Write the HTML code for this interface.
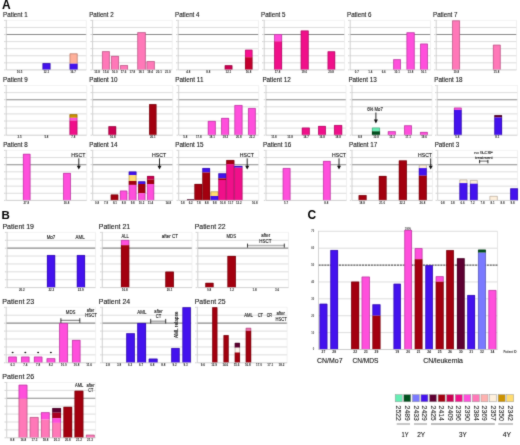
<!DOCTYPE html>
<html><head><meta charset="utf-8"><style>
html,body{margin:0;padding:0;background:#fff;width:520px;height:445px;overflow:hidden}
svg{display:block;will-change:transform}
text{font-family:'Liberation Sans',sans-serif}
</style></head><body>
<svg width="520" height="445" viewBox="0 0 520 445">
<defs><filter id="soft" x="0" y="0" width="520" height="445" filterUnits="userSpaceOnUse" color-interpolation-filters="sRGB"><feConvolveMatrix order="3" kernelMatrix="0.02 0.08 0.02 0.08 0.60 0.08 0.02 0.08 0.02" edgeMode="duplicate"/></filter></defs>
<g filter="url(#soft)">
<rect x="0" y="0" width="520" height="445" fill="#fff"/>
<text x="2.1" y="8.7" font-size="12" fill="#000" font-weight="bold">A</text>
<text x="3.1" y="17.3" font-size="6.3" fill="#1a1a1a" textLength="24.5" lengthAdjust="spacingAndGlyphs" stroke="#1a1a1a" stroke-width="0.12">Patient 1</text>
<line x1="6.30" y1="20.40" x2="86.30" y2="20.40" stroke="#ebebeb" stroke-width="0.6"/>
<line x1="4.10" y1="20.40" x2="5.70" y2="20.40" stroke="#c8c8c8" stroke-width="0.8"/>
<line x1="6.30" y1="27.47" x2="86.30" y2="27.47" stroke="#d4d4d4" stroke-width="0.8"/>
<line x1="4.10" y1="27.47" x2="5.70" y2="27.47" stroke="#c8c8c8" stroke-width="0.8"/>
<line x1="6.30" y1="34.54" x2="86.30" y2="34.54" stroke="#8a8a8a" stroke-width="1.1"/>
<line x1="4.10" y1="34.54" x2="5.70" y2="34.54" stroke="#c8c8c8" stroke-width="0.8"/>
<line x1="6.30" y1="41.61" x2="86.30" y2="41.61" stroke="#d4d4d4" stroke-width="0.8"/>
<line x1="4.10" y1="41.61" x2="5.70" y2="41.61" stroke="#c8c8c8" stroke-width="0.8"/>
<line x1="6.30" y1="48.69" x2="86.30" y2="48.69" stroke="#d4d4d4" stroke-width="0.8"/>
<line x1="4.10" y1="48.69" x2="5.70" y2="48.69" stroke="#c8c8c8" stroke-width="0.8"/>
<line x1="6.30" y1="55.76" x2="86.30" y2="55.76" stroke="#d4d4d4" stroke-width="0.8"/>
<line x1="4.10" y1="55.76" x2="5.70" y2="55.76" stroke="#c8c8c8" stroke-width="0.8"/>
<line x1="6.30" y1="62.83" x2="86.30" y2="62.83" stroke="#d4d4d4" stroke-width="0.8"/>
<line x1="4.10" y1="62.83" x2="5.70" y2="62.83" stroke="#c8c8c8" stroke-width="0.8"/>
<line x1="4.10" y1="69.90" x2="5.70" y2="69.90" stroke="#c8c8c8" stroke-width="0.8"/>
<line x1="86.30" y1="20.40" x2="86.30" y2="69.90" stroke="#e8e8e8" stroke-width="0.6"/>
<rect x="42.60" y="63.20" width="7.80" height="6.70" fill="#4412ee"/>
<path d="M42.88,69.90 L42.88,63.48 L50.12,63.48 L50.12,69.90" fill="none" stroke="#250982" stroke-width="0.55" stroke-opacity="0.85"/>
<rect x="69.70" y="53.50" width="7.80" height="10.20" fill="#ffb09a"/>
<rect x="69.70" y="63.70" width="7.80" height="6.20" fill="#4412ee"/>
<path d="M69.98,63.70 L69.98,53.78 L77.22,53.78 L77.22,63.70" fill="none" stroke="#8c6054" stroke-width="0.55" stroke-opacity="0.85"/>
<path d="M69.98,63.70 L69.98,69.90 M77.22,63.70 L77.22,69.90" fill="none" stroke="#250982" stroke-width="0.55" stroke-opacity="0.85"/>
<line x1="6.30" y1="19.90" x2="6.30" y2="69.90" stroke="#bdbdbd" stroke-width="0.7"/>
<line x1="6.30" y1="69.90" x2="86.30" y2="69.90" stroke="#c4c4c4" stroke-width="0.8"/>
<text x="19.63" y="72.70" font-size="2.9" fill="#1a1a1a" text-anchor="middle" font-weight="bold">10.5</text>
<text x="46.30" y="72.70" font-size="2.9" fill="#1a1a1a" text-anchor="middle" font-weight="bold">12.1</text>
<text x="72.97" y="72.70" font-size="2.9" fill="#1a1a1a" text-anchor="middle" font-weight="bold">16.7</text>
<text x="89.2" y="17.3" font-size="6.3" fill="#1a1a1a" textLength="24.5" lengthAdjust="spacingAndGlyphs" stroke="#1a1a1a" stroke-width="0.12">Patient 2</text>
<line x1="92.60" y1="20.40" x2="172.20" y2="20.40" stroke="#ebebeb" stroke-width="0.6"/>
<line x1="90.40" y1="20.40" x2="92.00" y2="20.40" stroke="#c8c8c8" stroke-width="0.8"/>
<line x1="92.60" y1="27.47" x2="172.20" y2="27.47" stroke="#d4d4d4" stroke-width="0.8"/>
<line x1="90.40" y1="27.47" x2="92.00" y2="27.47" stroke="#c8c8c8" stroke-width="0.8"/>
<line x1="92.60" y1="34.54" x2="172.20" y2="34.54" stroke="#8a8a8a" stroke-width="1.1"/>
<line x1="90.40" y1="34.54" x2="92.00" y2="34.54" stroke="#c8c8c8" stroke-width="0.8"/>
<line x1="92.60" y1="41.61" x2="172.20" y2="41.61" stroke="#d4d4d4" stroke-width="0.8"/>
<line x1="90.40" y1="41.61" x2="92.00" y2="41.61" stroke="#c8c8c8" stroke-width="0.8"/>
<line x1="92.60" y1="48.69" x2="172.20" y2="48.69" stroke="#d4d4d4" stroke-width="0.8"/>
<line x1="90.40" y1="48.69" x2="92.00" y2="48.69" stroke="#c8c8c8" stroke-width="0.8"/>
<line x1="92.60" y1="55.76" x2="172.20" y2="55.76" stroke="#d4d4d4" stroke-width="0.8"/>
<line x1="90.40" y1="55.76" x2="92.00" y2="55.76" stroke="#c8c8c8" stroke-width="0.8"/>
<line x1="92.60" y1="62.83" x2="172.20" y2="62.83" stroke="#d4d4d4" stroke-width="0.8"/>
<line x1="90.40" y1="62.83" x2="92.00" y2="62.83" stroke="#c8c8c8" stroke-width="0.8"/>
<line x1="90.40" y1="69.90" x2="92.00" y2="69.90" stroke="#c8c8c8" stroke-width="0.8"/>
<line x1="172.20" y1="20.40" x2="172.20" y2="69.90" stroke="#e8e8e8" stroke-width="0.6"/>
<rect x="102.10" y="51.30" width="7.60" height="18.60" fill="#ff78b8"/>
<path d="M102.38,69.90 L102.38,51.58 L109.42,51.58 L109.42,69.90" fill="none" stroke="#8c4265" stroke-width="0.55" stroke-opacity="0.85"/>
<rect x="111.10" y="56.00" width="7.80" height="13.90" fill="#ff78b8"/>
<path d="M111.38,69.90 L111.38,56.28 L118.62,56.28 L118.62,69.90" fill="none" stroke="#8c4265" stroke-width="0.55" stroke-opacity="0.85"/>
<rect x="120.10" y="65.20" width="7.80" height="4.70" fill="#ff78b8"/>
<path d="M120.38,69.90 L120.38,65.48 L127.62,65.48 L127.62,69.90" fill="none" stroke="#8c4265" stroke-width="0.55" stroke-opacity="0.85"/>
<rect x="137.40" y="32.30" width="8.30" height="37.60" fill="#ff78b8"/>
<path d="M137.68,69.90 L137.68,32.58 L145.42,32.58 L145.42,69.90" fill="none" stroke="#8c4265" stroke-width="0.55" stroke-opacity="0.85"/>
<rect x="146.60" y="61.20" width="8.10" height="8.70" fill="#ff78b8"/>
<path d="M146.88,69.90 L146.88,61.48 L154.42,61.48 L154.42,69.90" fill="none" stroke="#8c4265" stroke-width="0.55" stroke-opacity="0.85"/>
<line x1="92.60" y1="19.90" x2="92.60" y2="69.90" stroke="#bdbdbd" stroke-width="0.7"/>
<line x1="92.60" y1="69.90" x2="172.20" y2="69.90" stroke="#c4c4c4" stroke-width="0.8"/>
<text x="97.02" y="72.70" font-size="2.9" fill="#1a1a1a" text-anchor="middle" font-weight="bold">13.8</text>
<text x="105.87" y="72.70" font-size="2.9" fill="#1a1a1a" text-anchor="middle" font-weight="bold">15.4</text>
<text x="114.71" y="72.70" font-size="2.9" fill="#1a1a1a" text-anchor="middle" font-weight="bold">16.0</text>
<text x="123.56" y="72.70" font-size="2.9" fill="#1a1a1a" text-anchor="middle" font-weight="bold">17.6</text>
<text x="132.40" y="72.70" font-size="2.9" fill="#1a1a1a" text-anchor="middle" font-weight="bold">17.8</text>
<text x="141.24" y="72.70" font-size="2.9" fill="#1a1a1a" text-anchor="middle" font-weight="bold">18.1</text>
<text x="150.09" y="72.70" font-size="2.9" fill="#1a1a1a" text-anchor="middle" font-weight="bold">19.4</text>
<text x="158.93" y="72.70" font-size="2.9" fill="#1a1a1a" text-anchor="middle" font-weight="bold">20.1</text>
<text x="167.78" y="72.70" font-size="2.9" fill="#1a1a1a" text-anchor="middle" font-weight="bold">21.0</text>
<text x="175.0" y="17.3" font-size="6.3" fill="#1a1a1a" textLength="24.5" lengthAdjust="spacingAndGlyphs" stroke="#1a1a1a" stroke-width="0.12">Patient 4</text>
<line x1="178.20" y1="20.40" x2="258.50" y2="20.40" stroke="#ebebeb" stroke-width="0.6"/>
<line x1="176.00" y1="20.40" x2="177.60" y2="20.40" stroke="#c8c8c8" stroke-width="0.8"/>
<line x1="178.20" y1="27.47" x2="258.50" y2="27.47" stroke="#d4d4d4" stroke-width="0.8"/>
<line x1="176.00" y1="27.47" x2="177.60" y2="27.47" stroke="#c8c8c8" stroke-width="0.8"/>
<line x1="178.20" y1="34.54" x2="258.50" y2="34.54" stroke="#8a8a8a" stroke-width="1.1"/>
<line x1="176.00" y1="34.54" x2="177.60" y2="34.54" stroke="#c8c8c8" stroke-width="0.8"/>
<line x1="178.20" y1="41.61" x2="258.50" y2="41.61" stroke="#d4d4d4" stroke-width="0.8"/>
<line x1="176.00" y1="41.61" x2="177.60" y2="41.61" stroke="#c8c8c8" stroke-width="0.8"/>
<line x1="178.20" y1="48.69" x2="258.50" y2="48.69" stroke="#d4d4d4" stroke-width="0.8"/>
<line x1="176.00" y1="48.69" x2="177.60" y2="48.69" stroke="#c8c8c8" stroke-width="0.8"/>
<line x1="178.20" y1="55.76" x2="258.50" y2="55.76" stroke="#d4d4d4" stroke-width="0.8"/>
<line x1="176.00" y1="55.76" x2="177.60" y2="55.76" stroke="#c8c8c8" stroke-width="0.8"/>
<line x1="178.20" y1="62.83" x2="258.50" y2="62.83" stroke="#d4d4d4" stroke-width="0.8"/>
<line x1="176.00" y1="62.83" x2="177.60" y2="62.83" stroke="#c8c8c8" stroke-width="0.8"/>
<line x1="176.00" y1="69.90" x2="177.60" y2="69.90" stroke="#c8c8c8" stroke-width="0.8"/>
<line x1="258.50" y1="20.40" x2="258.50" y2="69.90" stroke="#e8e8e8" stroke-width="0.6"/>
<rect x="224.80" y="65.30" width="7.50" height="4.60" fill="#cc0052"/>
<path d="M225.08,69.90 L225.08,65.58 L232.02,65.58 L232.02,69.90" fill="none" stroke="#70002d" stroke-width="0.55" stroke-opacity="0.85"/>
<rect x="245.10" y="49.80" width="7.30" height="7.40" fill="#fa1090"/>
<rect x="245.10" y="57.20" width="7.30" height="12.70" fill="#c4002e"/>
<path d="M245.38,57.20 L245.38,50.08 L252.12,50.08 L252.12,57.20" fill="none" stroke="#89084f" stroke-width="0.55" stroke-opacity="0.85"/>
<path d="M245.38,57.20 L245.38,69.90 M252.12,57.20 L252.12,69.90" fill="none" stroke="#6b0019" stroke-width="0.55" stroke-opacity="0.85"/>
<line x1="178.20" y1="19.90" x2="178.20" y2="69.90" stroke="#bdbdbd" stroke-width="0.7"/>
<line x1="178.20" y1="69.90" x2="258.50" y2="69.90" stroke="#c4c4c4" stroke-width="0.8"/>
<text x="188.24" y="72.70" font-size="2.9" fill="#1a1a1a" text-anchor="middle" font-weight="bold">4.8</text>
<text x="208.31" y="72.70" font-size="2.9" fill="#1a1a1a" text-anchor="middle" font-weight="bold">8.8</text>
<text x="228.39" y="72.70" font-size="2.9" fill="#1a1a1a" text-anchor="middle" font-weight="bold">12.1</text>
<text x="248.46" y="72.70" font-size="2.9" fill="#1a1a1a" text-anchor="middle" font-weight="bold">16.8</text>
<text x="261.0" y="17.3" font-size="6.3" fill="#1a1a1a" textLength="24.5" lengthAdjust="spacingAndGlyphs" stroke="#1a1a1a" stroke-width="0.12">Patient 5</text>
<line x1="264.20" y1="20.40" x2="344.50" y2="20.40" stroke="#ebebeb" stroke-width="0.6"/>
<line x1="262.00" y1="20.40" x2="263.60" y2="20.40" stroke="#c8c8c8" stroke-width="0.8"/>
<line x1="264.20" y1="27.47" x2="344.50" y2="27.47" stroke="#d4d4d4" stroke-width="0.8"/>
<line x1="262.00" y1="27.47" x2="263.60" y2="27.47" stroke="#c8c8c8" stroke-width="0.8"/>
<line x1="264.20" y1="34.54" x2="344.50" y2="34.54" stroke="#8a8a8a" stroke-width="1.1"/>
<line x1="262.00" y1="34.54" x2="263.60" y2="34.54" stroke="#c8c8c8" stroke-width="0.8"/>
<line x1="264.20" y1="41.61" x2="344.50" y2="41.61" stroke="#d4d4d4" stroke-width="0.8"/>
<line x1="262.00" y1="41.61" x2="263.60" y2="41.61" stroke="#c8c8c8" stroke-width="0.8"/>
<line x1="264.20" y1="48.69" x2="344.50" y2="48.69" stroke="#d4d4d4" stroke-width="0.8"/>
<line x1="262.00" y1="48.69" x2="263.60" y2="48.69" stroke="#c8c8c8" stroke-width="0.8"/>
<line x1="264.20" y1="55.76" x2="344.50" y2="55.76" stroke="#d4d4d4" stroke-width="0.8"/>
<line x1="262.00" y1="55.76" x2="263.60" y2="55.76" stroke="#c8c8c8" stroke-width="0.8"/>
<line x1="264.20" y1="62.83" x2="344.50" y2="62.83" stroke="#d4d4d4" stroke-width="0.8"/>
<line x1="262.00" y1="62.83" x2="263.60" y2="62.83" stroke="#c8c8c8" stroke-width="0.8"/>
<line x1="262.00" y1="69.90" x2="263.60" y2="69.90" stroke="#c8c8c8" stroke-width="0.8"/>
<line x1="344.50" y1="20.40" x2="344.50" y2="69.90" stroke="#e8e8e8" stroke-width="0.6"/>
<rect x="274.20" y="34.20" width="7.80" height="7.10" fill="#ff4fdc"/>
<rect x="274.20" y="41.30" width="7.80" height="28.60" fill="#f0108a"/>
<path d="M274.48,41.30 L274.48,34.48 L281.72,34.48 L281.72,41.30" fill="none" stroke="#8c2b79" stroke-width="0.55" stroke-opacity="0.85"/>
<path d="M274.48,41.30 L274.48,69.90 M281.72,41.30 L281.72,69.90" fill="none" stroke="#84084b" stroke-width="0.55" stroke-opacity="0.85"/>
<rect x="300.80" y="30.60" width="7.80" height="39.30" fill="#f0108a"/>
<path d="M301.08,69.90 L301.08,30.88 L308.32,30.88 L308.32,69.90" fill="none" stroke="#84084b" stroke-width="0.55" stroke-opacity="0.85"/>
<rect x="327.70" y="51.40" width="7.40" height="18.50" fill="#f0108a"/>
<path d="M327.98,69.90 L327.98,51.68 L334.82,51.68 L334.82,69.90" fill="none" stroke="#84084b" stroke-width="0.55" stroke-opacity="0.85"/>
<line x1="264.20" y1="19.90" x2="264.20" y2="69.90" stroke="#bdbdbd" stroke-width="0.7"/>
<line x1="264.20" y1="69.90" x2="344.50" y2="69.90" stroke="#c4c4c4" stroke-width="0.8"/>
<text x="277.58" y="72.70" font-size="2.9" fill="#1a1a1a" text-anchor="middle" font-weight="bold">17.8</text>
<text x="304.35" y="72.70" font-size="2.9" fill="#1a1a1a" text-anchor="middle" font-weight="bold">19.0</text>
<text x="331.12" y="72.70" font-size="2.9" fill="#1a1a1a" text-anchor="middle" font-weight="bold">20.8</text>
<text x="347.0" y="17.3" font-size="6.3" fill="#1a1a1a" textLength="24.5" lengthAdjust="spacingAndGlyphs" stroke="#1a1a1a" stroke-width="0.12">Patient 6</text>
<line x1="350.20" y1="20.40" x2="430.50" y2="20.40" stroke="#ebebeb" stroke-width="0.6"/>
<line x1="348.00" y1="20.40" x2="349.60" y2="20.40" stroke="#c8c8c8" stroke-width="0.8"/>
<line x1="350.20" y1="27.47" x2="430.50" y2="27.47" stroke="#d4d4d4" stroke-width="0.8"/>
<line x1="348.00" y1="27.47" x2="349.60" y2="27.47" stroke="#c8c8c8" stroke-width="0.8"/>
<line x1="350.20" y1="34.54" x2="430.50" y2="34.54" stroke="#8a8a8a" stroke-width="1.1"/>
<line x1="348.00" y1="34.54" x2="349.60" y2="34.54" stroke="#c8c8c8" stroke-width="0.8"/>
<line x1="350.20" y1="41.61" x2="430.50" y2="41.61" stroke="#d4d4d4" stroke-width="0.8"/>
<line x1="348.00" y1="41.61" x2="349.60" y2="41.61" stroke="#c8c8c8" stroke-width="0.8"/>
<line x1="350.20" y1="48.69" x2="430.50" y2="48.69" stroke="#d4d4d4" stroke-width="0.8"/>
<line x1="348.00" y1="48.69" x2="349.60" y2="48.69" stroke="#c8c8c8" stroke-width="0.8"/>
<line x1="350.20" y1="55.76" x2="430.50" y2="55.76" stroke="#d4d4d4" stroke-width="0.8"/>
<line x1="348.00" y1="55.76" x2="349.60" y2="55.76" stroke="#c8c8c8" stroke-width="0.8"/>
<line x1="350.20" y1="62.83" x2="430.50" y2="62.83" stroke="#d4d4d4" stroke-width="0.8"/>
<line x1="348.00" y1="62.83" x2="349.60" y2="62.83" stroke="#c8c8c8" stroke-width="0.8"/>
<line x1="348.00" y1="69.90" x2="349.60" y2="69.90" stroke="#c8c8c8" stroke-width="0.8"/>
<line x1="430.50" y1="20.40" x2="430.50" y2="69.90" stroke="#e8e8e8" stroke-width="0.6"/>
<rect x="393.30" y="59.30" width="7.50" height="10.60" fill="#ff4fdc"/>
<path d="M393.58,69.90 L393.58,59.58 L400.52,59.58 L400.52,69.90" fill="none" stroke="#8c2b79" stroke-width="0.55" stroke-opacity="0.85"/>
<rect x="406.60" y="32.40" width="8.00" height="37.50" fill="#ff4fdc"/>
<path d="M406.88,69.90 L406.88,32.68 L414.32,32.68 L414.32,69.90" fill="none" stroke="#8c2b79" stroke-width="0.55" stroke-opacity="0.85"/>
<rect x="420.20" y="43.70" width="7.60" height="26.20" fill="#ff4fdc"/>
<path d="M420.48,69.90 L420.48,43.98 L427.52,43.98 L427.52,69.90" fill="none" stroke="#8c2b79" stroke-width="0.55" stroke-opacity="0.85"/>
<line x1="350.20" y1="19.90" x2="350.20" y2="69.90" stroke="#bdbdbd" stroke-width="0.7"/>
<line x1="350.20" y1="69.90" x2="430.50" y2="69.90" stroke="#c4c4c4" stroke-width="0.8"/>
<text x="356.89" y="72.70" font-size="2.9" fill="#1a1a1a" text-anchor="middle" font-weight="bold">0.7</text>
<text x="370.27" y="72.70" font-size="2.9" fill="#1a1a1a" text-anchor="middle" font-weight="bold">1.4</text>
<text x="383.66" y="72.70" font-size="2.9" fill="#1a1a1a" text-anchor="middle" font-weight="bold">6.6</text>
<text x="397.04" y="72.70" font-size="2.9" fill="#1a1a1a" text-anchor="middle" font-weight="bold">10.1</text>
<text x="410.43" y="72.70" font-size="2.9" fill="#1a1a1a" text-anchor="middle" font-weight="bold">13.8</text>
<text x="423.81" y="72.70" font-size="2.9" fill="#1a1a1a" text-anchor="middle" font-weight="bold">16.1</text>
<text x="433.0" y="17.3" font-size="6.3" fill="#1a1a1a" textLength="24.5" lengthAdjust="spacingAndGlyphs" stroke="#1a1a1a" stroke-width="0.12">Patient 7</text>
<line x1="436.20" y1="20.40" x2="516.50" y2="20.40" stroke="#ebebeb" stroke-width="0.6"/>
<line x1="434.00" y1="20.40" x2="435.60" y2="20.40" stroke="#c8c8c8" stroke-width="0.8"/>
<line x1="436.20" y1="27.47" x2="516.50" y2="27.47" stroke="#d4d4d4" stroke-width="0.8"/>
<line x1="434.00" y1="27.47" x2="435.60" y2="27.47" stroke="#c8c8c8" stroke-width="0.8"/>
<line x1="436.20" y1="34.54" x2="516.50" y2="34.54" stroke="#8a8a8a" stroke-width="1.1"/>
<line x1="434.00" y1="34.54" x2="435.60" y2="34.54" stroke="#c8c8c8" stroke-width="0.8"/>
<line x1="436.20" y1="41.61" x2="516.50" y2="41.61" stroke="#d4d4d4" stroke-width="0.8"/>
<line x1="434.00" y1="41.61" x2="435.60" y2="41.61" stroke="#c8c8c8" stroke-width="0.8"/>
<line x1="436.20" y1="48.69" x2="516.50" y2="48.69" stroke="#d4d4d4" stroke-width="0.8"/>
<line x1="434.00" y1="48.69" x2="435.60" y2="48.69" stroke="#c8c8c8" stroke-width="0.8"/>
<line x1="436.20" y1="55.76" x2="516.50" y2="55.76" stroke="#d4d4d4" stroke-width="0.8"/>
<line x1="434.00" y1="55.76" x2="435.60" y2="55.76" stroke="#c8c8c8" stroke-width="0.8"/>
<line x1="436.20" y1="62.83" x2="516.50" y2="62.83" stroke="#d4d4d4" stroke-width="0.8"/>
<line x1="434.00" y1="62.83" x2="435.60" y2="62.83" stroke="#c8c8c8" stroke-width="0.8"/>
<line x1="434.00" y1="69.90" x2="435.60" y2="69.90" stroke="#c8c8c8" stroke-width="0.8"/>
<line x1="516.50" y1="20.40" x2="516.50" y2="69.90" stroke="#e8e8e8" stroke-width="0.6"/>
<rect x="452.20" y="20.50" width="7.70" height="49.40" fill="#ff78b8"/>
<path d="M452.48,69.90 L452.48,20.78 L459.62,20.78 L459.62,69.90" fill="none" stroke="#8c4265" stroke-width="0.55" stroke-opacity="0.85"/>
<rect x="493.00" y="44.80" width="7.60" height="25.10" fill="#ff78b8"/>
<path d="M493.28,69.90 L493.28,45.08 L500.32,45.08 L500.32,69.90" fill="none" stroke="#8c4265" stroke-width="0.55" stroke-opacity="0.85"/>
<line x1="436.20" y1="19.90" x2="436.20" y2="69.90" stroke="#bdbdbd" stroke-width="0.7"/>
<line x1="436.20" y1="69.90" x2="516.50" y2="69.90" stroke="#c4c4c4" stroke-width="0.8"/>
<text x="456.27" y="72.70" font-size="2.9" fill="#1a1a1a" text-anchor="middle" font-weight="bold">10.8</text>
<text x="496.43" y="72.70" font-size="2.9" fill="#1a1a1a" text-anchor="middle" font-weight="bold">15.8</text>
<text x="3.1" y="82.4" font-size="6.3" fill="#1a1a1a" textLength="24.5" lengthAdjust="spacingAndGlyphs" stroke="#1a1a1a" stroke-width="0.12">Patient 9</text>
<line x1="6.20" y1="85.50" x2="86.70" y2="85.50" stroke="#ebebeb" stroke-width="0.6"/>
<line x1="4.00" y1="85.50" x2="5.60" y2="85.50" stroke="#c8c8c8" stroke-width="0.8"/>
<line x1="6.20" y1="92.60" x2="86.70" y2="92.60" stroke="#d4d4d4" stroke-width="0.8"/>
<line x1="4.00" y1="92.60" x2="5.60" y2="92.60" stroke="#c8c8c8" stroke-width="0.8"/>
<line x1="6.20" y1="99.70" x2="86.70" y2="99.70" stroke="#8a8a8a" stroke-width="1.1"/>
<line x1="4.00" y1="99.70" x2="5.60" y2="99.70" stroke="#c8c8c8" stroke-width="0.8"/>
<line x1="6.20" y1="106.80" x2="86.70" y2="106.80" stroke="#d4d4d4" stroke-width="0.8"/>
<line x1="4.00" y1="106.80" x2="5.60" y2="106.80" stroke="#c8c8c8" stroke-width="0.8"/>
<line x1="6.20" y1="113.90" x2="86.70" y2="113.90" stroke="#d4d4d4" stroke-width="0.8"/>
<line x1="4.00" y1="113.90" x2="5.60" y2="113.90" stroke="#c8c8c8" stroke-width="0.8"/>
<line x1="6.20" y1="121.00" x2="86.70" y2="121.00" stroke="#d4d4d4" stroke-width="0.8"/>
<line x1="4.00" y1="121.00" x2="5.60" y2="121.00" stroke="#c8c8c8" stroke-width="0.8"/>
<line x1="6.20" y1="128.10" x2="86.70" y2="128.10" stroke="#d4d4d4" stroke-width="0.8"/>
<line x1="4.00" y1="128.10" x2="5.60" y2="128.10" stroke="#c8c8c8" stroke-width="0.8"/>
<line x1="4.00" y1="135.20" x2="5.60" y2="135.20" stroke="#c8c8c8" stroke-width="0.8"/>
<line x1="86.70" y1="85.50" x2="86.70" y2="135.20" stroke="#e8e8e8" stroke-width="0.6"/>
<rect x="69.60" y="114.30" width="7.70" height="3.50" fill="#cc9200"/>
<rect x="69.60" y="117.80" width="7.70" height="2.70" fill="#ff4fdc"/>
<rect x="69.60" y="120.50" width="7.70" height="14.70" fill="#f0108a"/>
<path d="M69.88,117.80 L69.88,114.58 L77.02,114.58 L77.02,117.80" fill="none" stroke="#705000" stroke-width="0.55" stroke-opacity="0.85"/>
<path d="M69.88,117.80 L69.88,120.50 M77.02,117.80 L77.02,120.50" fill="none" stroke="#8c2b79" stroke-width="0.55" stroke-opacity="0.85"/>
<path d="M69.88,120.50 L69.88,135.20 M77.02,120.50 L77.02,135.20" fill="none" stroke="#84084b" stroke-width="0.55" stroke-opacity="0.85"/>
<line x1="6.20" y1="85.00" x2="6.20" y2="135.20" stroke="#bdbdbd" stroke-width="0.7"/>
<line x1="6.20" y1="135.20" x2="86.70" y2="135.20" stroke="#c4c4c4" stroke-width="0.8"/>
<text x="19.62" y="138.00" font-size="2.9" fill="#1a1a1a" text-anchor="middle" font-weight="bold">3.5</text>
<text x="46.45" y="138.00" font-size="2.9" fill="#1a1a1a" text-anchor="middle" font-weight="bold">5.8</text>
<text x="73.28" y="138.00" font-size="2.9" fill="#1a1a1a" text-anchor="middle" font-weight="bold">7.8</text>
<text x="89.2" y="82.4" font-size="6.3" fill="#1a1a1a" textLength="28.3" lengthAdjust="spacingAndGlyphs" stroke="#1a1a1a" stroke-width="0.12">Patient 10</text>
<line x1="92.70" y1="85.50" x2="172.70" y2="85.50" stroke="#ebebeb" stroke-width="0.6"/>
<line x1="90.50" y1="85.50" x2="92.10" y2="85.50" stroke="#c8c8c8" stroke-width="0.8"/>
<line x1="92.70" y1="92.60" x2="172.70" y2="92.60" stroke="#d4d4d4" stroke-width="0.8"/>
<line x1="90.50" y1="92.60" x2="92.10" y2="92.60" stroke="#c8c8c8" stroke-width="0.8"/>
<line x1="92.70" y1="99.70" x2="172.70" y2="99.70" stroke="#8a8a8a" stroke-width="1.1"/>
<line x1="90.50" y1="99.70" x2="92.10" y2="99.70" stroke="#c8c8c8" stroke-width="0.8"/>
<line x1="92.70" y1="106.80" x2="172.70" y2="106.80" stroke="#d4d4d4" stroke-width="0.8"/>
<line x1="90.50" y1="106.80" x2="92.10" y2="106.80" stroke="#c8c8c8" stroke-width="0.8"/>
<line x1="92.70" y1="113.90" x2="172.70" y2="113.90" stroke="#d4d4d4" stroke-width="0.8"/>
<line x1="90.50" y1="113.90" x2="92.10" y2="113.90" stroke="#c8c8c8" stroke-width="0.8"/>
<line x1="92.70" y1="121.00" x2="172.70" y2="121.00" stroke="#d4d4d4" stroke-width="0.8"/>
<line x1="90.50" y1="121.00" x2="92.10" y2="121.00" stroke="#c8c8c8" stroke-width="0.8"/>
<line x1="92.70" y1="128.10" x2="172.70" y2="128.10" stroke="#d4d4d4" stroke-width="0.8"/>
<line x1="90.50" y1="128.10" x2="92.10" y2="128.10" stroke="#c8c8c8" stroke-width="0.8"/>
<line x1="90.50" y1="135.20" x2="92.10" y2="135.20" stroke="#c8c8c8" stroke-width="0.8"/>
<line x1="172.70" y1="85.50" x2="172.70" y2="135.20" stroke="#e8e8e8" stroke-width="0.6"/>
<rect x="108.50" y="126.30" width="7.60" height="8.90" fill="#cc0052"/>
<path d="M108.78,135.20 L108.78,126.58 L115.82,126.58 L115.82,135.20" fill="none" stroke="#70002d" stroke-width="0.55" stroke-opacity="0.85"/>
<rect x="149.20" y="104.20" width="7.20" height="31.00" fill="#a3000f"/>
<path d="M149.48,135.20 L149.48,104.48 L156.12,104.48 L156.12,135.20" fill="none" stroke="#590008" stroke-width="0.55" stroke-opacity="0.85"/>
<line x1="92.70" y1="85.00" x2="92.70" y2="135.20" stroke="#bdbdbd" stroke-width="0.7"/>
<line x1="92.70" y1="135.20" x2="172.70" y2="135.20" stroke="#c4c4c4" stroke-width="0.8"/>
<text x="112.70" y="138.00" font-size="2.9" fill="#1a1a1a" text-anchor="middle" font-weight="bold">16.8</text>
<text x="152.70" y="138.00" font-size="2.9" fill="#1a1a1a" text-anchor="middle" font-weight="bold">26.1</text>
<text x="175.2" y="82.4" font-size="6.3" fill="#1a1a1a" textLength="28.3" lengthAdjust="spacingAndGlyphs" stroke="#1a1a1a" stroke-width="0.12">Patient 11</text>
<line x1="178.70" y1="85.50" x2="258.70" y2="85.50" stroke="#ebebeb" stroke-width="0.6"/>
<line x1="176.50" y1="85.50" x2="178.10" y2="85.50" stroke="#c8c8c8" stroke-width="0.8"/>
<line x1="178.70" y1="92.60" x2="258.70" y2="92.60" stroke="#d4d4d4" stroke-width="0.8"/>
<line x1="176.50" y1="92.60" x2="178.10" y2="92.60" stroke="#c8c8c8" stroke-width="0.8"/>
<line x1="178.70" y1="99.70" x2="258.70" y2="99.70" stroke="#8a8a8a" stroke-width="1.1"/>
<line x1="176.50" y1="99.70" x2="178.10" y2="99.70" stroke="#c8c8c8" stroke-width="0.8"/>
<line x1="178.70" y1="106.80" x2="258.70" y2="106.80" stroke="#d4d4d4" stroke-width="0.8"/>
<line x1="176.50" y1="106.80" x2="178.10" y2="106.80" stroke="#c8c8c8" stroke-width="0.8"/>
<line x1="178.70" y1="113.90" x2="258.70" y2="113.90" stroke="#d4d4d4" stroke-width="0.8"/>
<line x1="176.50" y1="113.90" x2="178.10" y2="113.90" stroke="#c8c8c8" stroke-width="0.8"/>
<line x1="178.70" y1="121.00" x2="258.70" y2="121.00" stroke="#d4d4d4" stroke-width="0.8"/>
<line x1="176.50" y1="121.00" x2="178.10" y2="121.00" stroke="#c8c8c8" stroke-width="0.8"/>
<line x1="178.70" y1="128.10" x2="258.70" y2="128.10" stroke="#d4d4d4" stroke-width="0.8"/>
<line x1="176.50" y1="128.10" x2="178.10" y2="128.10" stroke="#c8c8c8" stroke-width="0.8"/>
<line x1="176.50" y1="135.20" x2="178.10" y2="135.20" stroke="#c8c8c8" stroke-width="0.8"/>
<line x1="258.70" y1="85.50" x2="258.70" y2="135.20" stroke="#e8e8e8" stroke-width="0.6"/>
<rect x="207.90" y="121.00" width="7.80" height="14.20" fill="#ff4fdc"/>
<path d="M208.18,135.20 L208.18,121.28 L215.42,121.28 L215.42,135.20" fill="none" stroke="#8c2b79" stroke-width="0.55" stroke-opacity="0.85"/>
<rect x="221.20" y="118.00" width="7.80" height="17.20" fill="#ff4fdc"/>
<path d="M221.48,135.20 L221.48,118.28 L228.72,118.28 L228.72,135.20" fill="none" stroke="#8c2b79" stroke-width="0.55" stroke-opacity="0.85"/>
<rect x="234.50" y="105.10" width="7.90" height="30.10" fill="#ff4fdc"/>
<path d="M234.78,135.20 L234.78,105.38 L242.12,105.38 L242.12,135.20" fill="none" stroke="#8c2b79" stroke-width="0.55" stroke-opacity="0.85"/>
<rect x="248.10" y="108.10" width="7.60" height="27.10" fill="#ff4fdc"/>
<path d="M248.38,135.20 L248.38,108.38 L255.42,108.38 L255.42,135.20" fill="none" stroke="#8c2b79" stroke-width="0.55" stroke-opacity="0.85"/>
<line x1="178.70" y1="85.00" x2="178.70" y2="135.20" stroke="#bdbdbd" stroke-width="0.7"/>
<line x1="178.70" y1="135.20" x2="258.70" y2="135.20" stroke="#c4c4c4" stroke-width="0.8"/>
<text x="185.37" y="138.00" font-size="2.9" fill="#1a1a1a" text-anchor="middle" font-weight="bold">5.8</text>
<text x="198.70" y="138.00" font-size="2.9" fill="#1a1a1a" text-anchor="middle" font-weight="bold">17.8</text>
<text x="212.03" y="138.00" font-size="2.9" fill="#1a1a1a" text-anchor="middle" font-weight="bold">18.1</text>
<text x="225.37" y="138.00" font-size="2.9" fill="#1a1a1a" text-anchor="middle" font-weight="bold">19.3</text>
<text x="238.70" y="138.00" font-size="2.9" fill="#1a1a1a" text-anchor="middle" font-weight="bold">20.8</text>
<text x="252.03" y="138.00" font-size="2.9" fill="#1a1a1a" text-anchor="middle" font-weight="bold">22.2</text>
<text x="262.4" y="82.4" font-size="6.3" fill="#1a1a1a" textLength="28.3" lengthAdjust="spacingAndGlyphs" stroke="#1a1a1a" stroke-width="0.12">Patient 12</text>
<line x1="266.00" y1="85.50" x2="346.00" y2="85.50" stroke="#ebebeb" stroke-width="0.6"/>
<line x1="263.80" y1="85.50" x2="265.40" y2="85.50" stroke="#c8c8c8" stroke-width="0.8"/>
<line x1="266.00" y1="92.60" x2="346.00" y2="92.60" stroke="#d4d4d4" stroke-width="0.8"/>
<line x1="263.80" y1="92.60" x2="265.40" y2="92.60" stroke="#c8c8c8" stroke-width="0.8"/>
<line x1="266.00" y1="99.70" x2="346.00" y2="99.70" stroke="#8a8a8a" stroke-width="1.1"/>
<line x1="263.80" y1="99.70" x2="265.40" y2="99.70" stroke="#c8c8c8" stroke-width="0.8"/>
<line x1="266.00" y1="106.80" x2="346.00" y2="106.80" stroke="#d4d4d4" stroke-width="0.8"/>
<line x1="263.80" y1="106.80" x2="265.40" y2="106.80" stroke="#c8c8c8" stroke-width="0.8"/>
<line x1="266.00" y1="113.90" x2="346.00" y2="113.90" stroke="#d4d4d4" stroke-width="0.8"/>
<line x1="263.80" y1="113.90" x2="265.40" y2="113.90" stroke="#c8c8c8" stroke-width="0.8"/>
<line x1="266.00" y1="121.00" x2="346.00" y2="121.00" stroke="#d4d4d4" stroke-width="0.8"/>
<line x1="263.80" y1="121.00" x2="265.40" y2="121.00" stroke="#c8c8c8" stroke-width="0.8"/>
<line x1="266.00" y1="128.10" x2="346.00" y2="128.10" stroke="#d4d4d4" stroke-width="0.8"/>
<line x1="263.80" y1="128.10" x2="265.40" y2="128.10" stroke="#c8c8c8" stroke-width="0.8"/>
<line x1="263.80" y1="135.20" x2="265.40" y2="135.20" stroke="#c8c8c8" stroke-width="0.8"/>
<line x1="346.00" y1="85.50" x2="346.00" y2="135.20" stroke="#e8e8e8" stroke-width="0.6"/>
<rect x="301.90" y="127.70" width="7.80" height="7.50" fill="#f0108a"/>
<path d="M302.18,135.20 L302.18,127.98 L309.42,127.98 L309.42,135.20" fill="none" stroke="#84084b" stroke-width="0.55" stroke-opacity="0.85"/>
<rect x="318.20" y="126.00" width="7.60" height="9.20" fill="#f0108a"/>
<path d="M318.48,135.20 L318.48,126.28 L325.52,126.28 L325.52,135.20" fill="none" stroke="#84084b" stroke-width="0.55" stroke-opacity="0.85"/>
<rect x="334.10" y="125.10" width="8.00" height="10.10" fill="#f0108a"/>
<path d="M334.38,135.20 L334.38,125.38 L341.82,125.38 L341.82,135.20" fill="none" stroke="#84084b" stroke-width="0.55" stroke-opacity="0.85"/>
<line x1="266.00" y1="85.00" x2="266.00" y2="135.20" stroke="#bdbdbd" stroke-width="0.7"/>
<line x1="266.00" y1="135.20" x2="346.00" y2="135.20" stroke="#c4c4c4" stroke-width="0.8"/>
<text x="274.00" y="138.00" font-size="2.9" fill="#1a1a1a" text-anchor="middle" font-weight="bold">11.8</text>
<text x="290.00" y="138.00" font-size="2.9" fill="#1a1a1a" text-anchor="middle" font-weight="bold">13.8</text>
<text x="306.00" y="138.00" font-size="2.9" fill="#1a1a1a" text-anchor="middle" font-weight="bold">14.7</text>
<text x="322.00" y="138.00" font-size="2.9" fill="#1a1a1a" text-anchor="middle" font-weight="bold">16.8</text>
<text x="338.00" y="138.00" font-size="2.9" fill="#1a1a1a" text-anchor="middle" font-weight="bold">18.8</text>
<text x="348.4" y="82.4" font-size="6.3" fill="#1a1a1a" textLength="28.3" lengthAdjust="spacingAndGlyphs" stroke="#1a1a1a" stroke-width="0.12">Patient 13</text>
<line x1="352.00" y1="85.50" x2="432.00" y2="85.50" stroke="#ebebeb" stroke-width="0.6"/>
<line x1="349.80" y1="85.50" x2="351.40" y2="85.50" stroke="#c8c8c8" stroke-width="0.8"/>
<line x1="352.00" y1="92.60" x2="432.00" y2="92.60" stroke="#d4d4d4" stroke-width="0.8"/>
<line x1="349.80" y1="92.60" x2="351.40" y2="92.60" stroke="#c8c8c8" stroke-width="0.8"/>
<line x1="352.00" y1="99.70" x2="432.00" y2="99.70" stroke="#8a8a8a" stroke-width="1.1"/>
<line x1="349.80" y1="99.70" x2="351.40" y2="99.70" stroke="#c8c8c8" stroke-width="0.8"/>
<line x1="352.00" y1="106.80" x2="432.00" y2="106.80" stroke="#d4d4d4" stroke-width="0.8"/>
<line x1="349.80" y1="106.80" x2="351.40" y2="106.80" stroke="#c8c8c8" stroke-width="0.8"/>
<line x1="352.00" y1="113.90" x2="432.00" y2="113.90" stroke="#d4d4d4" stroke-width="0.8"/>
<line x1="349.80" y1="113.90" x2="351.40" y2="113.90" stroke="#c8c8c8" stroke-width="0.8"/>
<line x1="352.00" y1="121.00" x2="432.00" y2="121.00" stroke="#d4d4d4" stroke-width="0.8"/>
<line x1="349.80" y1="121.00" x2="351.40" y2="121.00" stroke="#c8c8c8" stroke-width="0.8"/>
<line x1="352.00" y1="128.10" x2="432.00" y2="128.10" stroke="#d4d4d4" stroke-width="0.8"/>
<line x1="349.80" y1="128.10" x2="351.40" y2="128.10" stroke="#c8c8c8" stroke-width="0.8"/>
<line x1="349.80" y1="135.20" x2="351.40" y2="135.20" stroke="#c8c8c8" stroke-width="0.8"/>
<line x1="432.00" y1="85.50" x2="432.00" y2="135.20" stroke="#e8e8e8" stroke-width="0.6"/>
<rect x="372.00" y="127.70" width="7.90" height="3.60" fill="#66eeb4"/>
<rect x="372.00" y="131.30" width="7.90" height="3.90" fill="#00501e"/>
<path d="M372.28,131.30 L372.28,127.98 L379.62,127.98 L379.62,131.30" fill="none" stroke="#388263" stroke-width="0.55" stroke-opacity="0.85"/>
<path d="M372.28,131.30 L372.28,135.20 M379.62,131.30 L379.62,135.20" fill="none" stroke="#002c10" stroke-width="0.55" stroke-opacity="0.85"/>
<rect x="387.90" y="131.30" width="7.80" height="3.90" fill="#ff4fdc"/>
<path d="M388.18,135.20 L388.18,131.58 L395.42,131.58 L395.42,135.20" fill="none" stroke="#8c2b79" stroke-width="0.55" stroke-opacity="0.85"/>
<rect x="404.20" y="125.40" width="7.60" height="9.80" fill="#ff4fdc"/>
<path d="M404.48,135.20 L404.48,125.68 L411.52,125.68 L411.52,135.20" fill="none" stroke="#8c2b79" stroke-width="0.55" stroke-opacity="0.85"/>
<rect x="420.10" y="132.00" width="7.60" height="3.20" fill="#ff4fdc"/>
<path d="M420.38,135.20 L420.38,132.28 L427.42,132.28 L427.42,135.20" fill="none" stroke="#8c2b79" stroke-width="0.55" stroke-opacity="0.85"/>
<line x1="352.00" y1="85.00" x2="352.00" y2="135.20" stroke="#bdbdbd" stroke-width="0.7"/>
<line x1="352.00" y1="135.20" x2="432.00" y2="135.20" stroke="#c4c4c4" stroke-width="0.8"/>
<text x="360.00" y="138.00" font-size="2.9" fill="#1a1a1a" text-anchor="middle" font-weight="bold">8.8</text>
<text x="376.00" y="138.00" font-size="2.9" fill="#1a1a1a" text-anchor="middle" font-weight="bold">10.8</text>
<text x="392.00" y="138.00" font-size="2.9" fill="#1a1a1a" text-anchor="middle" font-weight="bold">15.3</text>
<text x="408.00" y="138.00" font-size="2.9" fill="#1a1a1a" text-anchor="middle" font-weight="bold">17.1</text>
<text x="424.00" y="138.00" font-size="2.9" fill="#1a1a1a" text-anchor="middle" font-weight="bold">19.6</text>
<text x="434.2" y="82.4" font-size="6.3" fill="#1a1a1a" textLength="28.3" lengthAdjust="spacingAndGlyphs" stroke="#1a1a1a" stroke-width="0.12">Patient 18</text>
<line x1="437.20" y1="85.50" x2="517.40" y2="85.50" stroke="#ebebeb" stroke-width="0.6"/>
<line x1="435.00" y1="85.50" x2="436.60" y2="85.50" stroke="#c8c8c8" stroke-width="0.8"/>
<line x1="437.20" y1="92.60" x2="517.40" y2="92.60" stroke="#d4d4d4" stroke-width="0.8"/>
<line x1="435.00" y1="92.60" x2="436.60" y2="92.60" stroke="#c8c8c8" stroke-width="0.8"/>
<line x1="437.20" y1="99.70" x2="517.40" y2="99.70" stroke="#8a8a8a" stroke-width="1.1"/>
<line x1="435.00" y1="99.70" x2="436.60" y2="99.70" stroke="#c8c8c8" stroke-width="0.8"/>
<line x1="437.20" y1="106.80" x2="517.40" y2="106.80" stroke="#d4d4d4" stroke-width="0.8"/>
<line x1="435.00" y1="106.80" x2="436.60" y2="106.80" stroke="#c8c8c8" stroke-width="0.8"/>
<line x1="437.20" y1="113.90" x2="517.40" y2="113.90" stroke="#d4d4d4" stroke-width="0.8"/>
<line x1="435.00" y1="113.90" x2="436.60" y2="113.90" stroke="#c8c8c8" stroke-width="0.8"/>
<line x1="437.20" y1="121.00" x2="517.40" y2="121.00" stroke="#d4d4d4" stroke-width="0.8"/>
<line x1="435.00" y1="121.00" x2="436.60" y2="121.00" stroke="#c8c8c8" stroke-width="0.8"/>
<line x1="437.20" y1="128.10" x2="517.40" y2="128.10" stroke="#d4d4d4" stroke-width="0.8"/>
<line x1="435.00" y1="128.10" x2="436.60" y2="128.10" stroke="#c8c8c8" stroke-width="0.8"/>
<line x1="435.00" y1="135.20" x2="436.60" y2="135.20" stroke="#c8c8c8" stroke-width="0.8"/>
<line x1="517.40" y1="85.50" x2="517.40" y2="135.20" stroke="#e8e8e8" stroke-width="0.6"/>
<rect x="454.00" y="107.70" width="7.60" height="2.20" fill="#ff4fdc"/>
<rect x="454.00" y="109.90" width="7.60" height="25.30" fill="#4412ee"/>
<path d="M454.28,109.90 L454.28,107.98 L461.32,107.98 L461.32,109.90" fill="none" stroke="#8c2b79" stroke-width="0.55" stroke-opacity="0.85"/>
<path d="M454.28,109.90 L454.28,135.20 M461.32,109.90 L461.32,135.20" fill="none" stroke="#250982" stroke-width="0.55" stroke-opacity="0.85"/>
<rect x="494.40" y="115.20" width="7.60" height="2.30" fill="#5e0032"/>
<rect x="494.40" y="117.50" width="7.60" height="17.70" fill="#4412ee"/>
<path d="M494.68,117.50 L494.68,115.48 L501.72,115.48 L501.72,117.50" fill="none" stroke="#33001b" stroke-width="0.55" stroke-opacity="0.85"/>
<path d="M494.68,117.50 L494.68,135.20 M501.72,117.50 L501.72,135.20" fill="none" stroke="#250982" stroke-width="0.55" stroke-opacity="0.85"/>
<line x1="437.20" y1="85.00" x2="437.20" y2="135.20" stroke="#bdbdbd" stroke-width="0.7"/>
<line x1="437.20" y1="135.20" x2="517.40" y2="135.20" stroke="#c4c4c4" stroke-width="0.8"/>
<text x="457.25" y="138.00" font-size="2.9" fill="#1a1a1a" text-anchor="middle" font-weight="bold">5.8</text>
<text x="497.35" y="138.00" font-size="2.9" fill="#1a1a1a" text-anchor="middle" font-weight="bold">8.1</text>
<text x="3.2" y="147.4" font-size="6.3" fill="#1a1a1a" textLength="24.5" lengthAdjust="spacingAndGlyphs" stroke="#1a1a1a" stroke-width="0.12">Patient 8</text>
<line x1="6.20" y1="150.40" x2="86.70" y2="150.40" stroke="#ebebeb" stroke-width="0.6"/>
<line x1="4.00" y1="150.40" x2="5.60" y2="150.40" stroke="#c8c8c8" stroke-width="0.8"/>
<line x1="6.20" y1="157.54" x2="86.70" y2="157.54" stroke="#d4d4d4" stroke-width="0.8"/>
<line x1="4.00" y1="157.54" x2="5.60" y2="157.54" stroke="#c8c8c8" stroke-width="0.8"/>
<line x1="6.20" y1="164.69" x2="86.70" y2="164.69" stroke="#8a8a8a" stroke-width="1.1"/>
<line x1="4.00" y1="164.69" x2="5.60" y2="164.69" stroke="#c8c8c8" stroke-width="0.8"/>
<line x1="6.20" y1="171.83" x2="86.70" y2="171.83" stroke="#d4d4d4" stroke-width="0.8"/>
<line x1="4.00" y1="171.83" x2="5.60" y2="171.83" stroke="#c8c8c8" stroke-width="0.8"/>
<line x1="6.20" y1="178.97" x2="86.70" y2="178.97" stroke="#d4d4d4" stroke-width="0.8"/>
<line x1="4.00" y1="178.97" x2="5.60" y2="178.97" stroke="#c8c8c8" stroke-width="0.8"/>
<line x1="6.20" y1="186.11" x2="86.70" y2="186.11" stroke="#d4d4d4" stroke-width="0.8"/>
<line x1="4.00" y1="186.11" x2="5.60" y2="186.11" stroke="#c8c8c8" stroke-width="0.8"/>
<line x1="6.20" y1="193.26" x2="86.70" y2="193.26" stroke="#d4d4d4" stroke-width="0.8"/>
<line x1="4.00" y1="193.26" x2="5.60" y2="193.26" stroke="#c8c8c8" stroke-width="0.8"/>
<line x1="4.00" y1="200.40" x2="5.60" y2="200.40" stroke="#c8c8c8" stroke-width="0.8"/>
<line x1="86.70" y1="150.40" x2="86.70" y2="200.40" stroke="#e8e8e8" stroke-width="0.6"/>
<rect x="23.00" y="153.90" width="7.40" height="46.50" fill="#ff4fdc"/>
<path d="M23.28,200.40 L23.28,154.18 L30.12,154.18 L30.12,200.40" fill="none" stroke="#8c2b79" stroke-width="0.55" stroke-opacity="0.85"/>
<rect x="63.20" y="173.00" width="7.60" height="27.40" fill="#ff4fdc"/>
<path d="M63.48,200.40 L63.48,173.28 L70.52,173.28 L70.52,200.40" fill="none" stroke="#8c2b79" stroke-width="0.55" stroke-opacity="0.85"/>
<line x1="6.20" y1="149.90" x2="6.20" y2="200.40" stroke="#bdbdbd" stroke-width="0.7"/>
<line x1="6.20" y1="200.40" x2="86.70" y2="200.40" stroke="#c4c4c4" stroke-width="0.8"/>
<text x="26.32" y="203.90" font-size="2.9" fill="#1a1a1a" text-anchor="middle" font-weight="bold">27.8</text>
<text x="66.58" y="203.90" font-size="2.9" fill="#1a1a1a" text-anchor="middle" font-weight="bold">30.8</text>
<text x="89.2" y="147.4" font-size="6.3" fill="#1a1a1a" textLength="28.3" lengthAdjust="spacingAndGlyphs" stroke="#1a1a1a" stroke-width="0.12">Patient 14</text>
<line x1="92.70" y1="150.40" x2="172.70" y2="150.40" stroke="#ebebeb" stroke-width="0.6"/>
<line x1="90.50" y1="150.40" x2="92.10" y2="150.40" stroke="#c8c8c8" stroke-width="0.8"/>
<line x1="92.70" y1="157.54" x2="172.70" y2="157.54" stroke="#d4d4d4" stroke-width="0.8"/>
<line x1="90.50" y1="157.54" x2="92.10" y2="157.54" stroke="#c8c8c8" stroke-width="0.8"/>
<line x1="92.70" y1="164.69" x2="172.70" y2="164.69" stroke="#8a8a8a" stroke-width="1.1"/>
<line x1="90.50" y1="164.69" x2="92.10" y2="164.69" stroke="#c8c8c8" stroke-width="0.8"/>
<line x1="92.70" y1="171.83" x2="172.70" y2="171.83" stroke="#d4d4d4" stroke-width="0.8"/>
<line x1="90.50" y1="171.83" x2="92.10" y2="171.83" stroke="#c8c8c8" stroke-width="0.8"/>
<line x1="92.70" y1="178.97" x2="172.70" y2="178.97" stroke="#d4d4d4" stroke-width="0.8"/>
<line x1="90.50" y1="178.97" x2="92.10" y2="178.97" stroke="#c8c8c8" stroke-width="0.8"/>
<line x1="92.70" y1="186.11" x2="172.70" y2="186.11" stroke="#d4d4d4" stroke-width="0.8"/>
<line x1="90.50" y1="186.11" x2="92.10" y2="186.11" stroke="#c8c8c8" stroke-width="0.8"/>
<line x1="92.70" y1="193.26" x2="172.70" y2="193.26" stroke="#d4d4d4" stroke-width="0.8"/>
<line x1="90.50" y1="193.26" x2="92.10" y2="193.26" stroke="#c8c8c8" stroke-width="0.8"/>
<line x1="90.50" y1="200.40" x2="92.10" y2="200.40" stroke="#c8c8c8" stroke-width="0.8"/>
<line x1="172.70" y1="150.40" x2="172.70" y2="200.40" stroke="#e8e8e8" stroke-width="0.6"/>
<rect x="110.80" y="194.60" width="7.40" height="5.80" fill="#a3000f"/>
<path d="M111.08,200.40 L111.08,194.88 L117.92,194.88 L117.92,200.40" fill="none" stroke="#590008" stroke-width="0.55" stroke-opacity="0.85"/>
<rect x="120.00" y="190.70" width="7.20" height="9.70" fill="#ff4fdc"/>
<path d="M120.28,200.40 L120.28,190.98 L126.92,190.98 L126.92,200.40" fill="none" stroke="#8c2b79" stroke-width="0.55" stroke-opacity="0.85"/>
<rect x="128.80" y="171.60" width="7.60" height="3.60" fill="#4412ee"/>
<rect x="128.80" y="175.20" width="7.60" height="5.80" fill="#ffdc70"/>
<rect x="128.80" y="181.00" width="7.60" height="3.90" fill="#a3000f"/>
<rect x="128.80" y="184.90" width="7.60" height="15.50" fill="#ff4fdc"/>
<path d="M129.08,175.20 L129.08,171.88 L136.12,171.88 L136.12,175.20" fill="none" stroke="#250982" stroke-width="0.55" stroke-opacity="0.85"/>
<path d="M129.08,175.20 L129.08,181.00 M136.12,175.20 L136.12,181.00" fill="none" stroke="#8c793d" stroke-width="0.55" stroke-opacity="0.85"/>
<path d="M129.08,181.00 L129.08,184.90 M136.12,181.00 L136.12,184.90" fill="none" stroke="#590008" stroke-width="0.55" stroke-opacity="0.85"/>
<path d="M129.08,184.90 L129.08,200.40 M136.12,184.90 L136.12,200.40" fill="none" stroke="#8c2b79" stroke-width="0.55" stroke-opacity="0.85"/>
<rect x="138.20" y="181.40" width="7.10" height="2.60" fill="#4412ee"/>
<rect x="138.20" y="184.00" width="7.10" height="9.20" fill="#a3000f"/>
<rect x="138.20" y="193.20" width="7.10" height="7.20" fill="#ff4fdc"/>
<path d="M138.48,184.00 L138.48,181.68 L145.02,181.68 L145.02,184.00" fill="none" stroke="#250982" stroke-width="0.55" stroke-opacity="0.85"/>
<path d="M138.48,184.00 L138.48,193.20 M145.02,184.00 L145.02,193.20" fill="none" stroke="#590008" stroke-width="0.55" stroke-opacity="0.85"/>
<path d="M138.48,193.20 L138.48,200.40 M145.02,193.20 L145.02,200.40" fill="none" stroke="#8c2b79" stroke-width="0.55" stroke-opacity="0.85"/>
<rect x="147.10" y="176.00" width="7.00" height="3.60" fill="#cc0052"/>
<rect x="147.10" y="179.60" width="7.00" height="4.40" fill="#a3000f"/>
<rect x="147.10" y="184.00" width="7.00" height="16.40" fill="#ff4fdc"/>
<path d="M147.38,179.60 L147.38,176.28 L153.82,176.28 L153.82,179.60" fill="none" stroke="#70002d" stroke-width="0.55" stroke-opacity="0.85"/>
<path d="M147.38,179.60 L147.38,184.00 M153.82,179.60 L153.82,184.00" fill="none" stroke="#590008" stroke-width="0.55" stroke-opacity="0.85"/>
<path d="M147.38,184.00 L147.38,200.40 M153.82,184.00 L153.82,200.40" fill="none" stroke="#8c2b79" stroke-width="0.55" stroke-opacity="0.85"/>
<line x1="92.70" y1="149.90" x2="92.70" y2="200.40" stroke="#bdbdbd" stroke-width="0.7"/>
<line x1="92.70" y1="200.40" x2="172.70" y2="200.40" stroke="#c4c4c4" stroke-width="0.8"/>
<text x="97.14" y="203.90" font-size="2.9" fill="#1a1a1a" text-anchor="middle" font-weight="bold">0.8</text>
<text x="106.03" y="203.90" font-size="2.9" fill="#1a1a1a" text-anchor="middle" font-weight="bold">7.8</text>
<text x="114.92" y="203.90" font-size="2.9" fill="#1a1a1a" text-anchor="middle" font-weight="bold">8.1</text>
<text x="123.81" y="203.90" font-size="2.9" fill="#1a1a1a" text-anchor="middle" font-weight="bold">8.8</text>
<text x="132.70" y="203.90" font-size="2.9" fill="#1a1a1a" text-anchor="middle" font-weight="bold">9.8</text>
<text x="141.59" y="203.90" font-size="2.9" fill="#1a1a1a" text-anchor="middle" font-weight="bold">10.2</text>
<text x="150.48" y="203.90" font-size="2.9" fill="#1a1a1a" text-anchor="middle" font-weight="bold">11.4</text>
<text x="168.26" y="203.90" font-size="2.9" fill="#1a1a1a" text-anchor="middle" font-weight="bold">14.8</text>
<text x="175.2" y="147.4" font-size="6.3" fill="#1a1a1a" textLength="28.3" lengthAdjust="spacingAndGlyphs" stroke="#1a1a1a" stroke-width="0.12">Patient 15</text>
<line x1="178.70" y1="150.40" x2="258.70" y2="150.40" stroke="#ebebeb" stroke-width="0.6"/>
<line x1="176.50" y1="150.40" x2="178.10" y2="150.40" stroke="#c8c8c8" stroke-width="0.8"/>
<line x1="178.70" y1="157.54" x2="258.70" y2="157.54" stroke="#d4d4d4" stroke-width="0.8"/>
<line x1="176.50" y1="157.54" x2="178.10" y2="157.54" stroke="#c8c8c8" stroke-width="0.8"/>
<line x1="178.70" y1="164.69" x2="258.70" y2="164.69" stroke="#8a8a8a" stroke-width="1.1"/>
<line x1="176.50" y1="164.69" x2="178.10" y2="164.69" stroke="#c8c8c8" stroke-width="0.8"/>
<line x1="178.70" y1="171.83" x2="258.70" y2="171.83" stroke="#d4d4d4" stroke-width="0.8"/>
<line x1="176.50" y1="171.83" x2="178.10" y2="171.83" stroke="#c8c8c8" stroke-width="0.8"/>
<line x1="178.70" y1="178.97" x2="258.70" y2="178.97" stroke="#d4d4d4" stroke-width="0.8"/>
<line x1="176.50" y1="178.97" x2="178.10" y2="178.97" stroke="#c8c8c8" stroke-width="0.8"/>
<line x1="178.70" y1="186.11" x2="258.70" y2="186.11" stroke="#d4d4d4" stroke-width="0.8"/>
<line x1="176.50" y1="186.11" x2="178.10" y2="186.11" stroke="#c8c8c8" stroke-width="0.8"/>
<line x1="178.70" y1="193.26" x2="258.70" y2="193.26" stroke="#d4d4d4" stroke-width="0.8"/>
<line x1="176.50" y1="193.26" x2="178.10" y2="193.26" stroke="#c8c8c8" stroke-width="0.8"/>
<line x1="176.50" y1="200.40" x2="178.10" y2="200.40" stroke="#c8c8c8" stroke-width="0.8"/>
<line x1="258.70" y1="150.40" x2="258.70" y2="200.40" stroke="#e8e8e8" stroke-width="0.6"/>
<rect x="187.00" y="199.40" width="7.10" height="1.00" fill="#5e0032"/>
<path d="M187.28,200.40 L187.28,199.68 L193.82,199.68 L193.82,200.40" fill="none" stroke="#33001b" stroke-width="0.55" stroke-opacity="0.85"/>
<rect x="194.50" y="184.00" width="7.60" height="16.40" fill="#a3000f"/>
<path d="M194.78,200.40 L194.78,184.28 L201.82,184.28 L201.82,200.40" fill="none" stroke="#590008" stroke-width="0.55" stroke-opacity="0.85"/>
<rect x="202.40" y="168.10" width="7.60" height="4.40" fill="#4412ee"/>
<rect x="202.40" y="172.50" width="7.60" height="27.90" fill="#a3000f"/>
<path d="M202.68,172.50 L202.68,168.38 L209.72,168.38 L209.72,172.50" fill="none" stroke="#250982" stroke-width="0.55" stroke-opacity="0.85"/>
<path d="M202.68,172.50 L202.68,200.40 M209.72,172.50 L209.72,200.40" fill="none" stroke="#590008" stroke-width="0.55" stroke-opacity="0.85"/>
<rect x="210.60" y="191.50" width="7.80" height="4.50" fill="#ffdc70"/>
<rect x="210.60" y="196.00" width="7.80" height="4.40" fill="#4412ee"/>
<path d="M210.88,196.00 L210.88,191.78 L218.12,191.78 L218.12,196.00" fill="none" stroke="#8c793d" stroke-width="0.55" stroke-opacity="0.85"/>
<path d="M210.88,196.00 L210.88,200.40 M218.12,196.00 L218.12,200.40" fill="none" stroke="#250982" stroke-width="0.55" stroke-opacity="0.85"/>
<rect x="218.40" y="173.40" width="7.90" height="5.00" fill="#4412ee"/>
<rect x="218.40" y="178.40" width="7.90" height="1.60" fill="#a3000f"/>
<rect x="218.40" y="180.00" width="7.90" height="20.40" fill="#f0108a"/>
<path d="M218.68,178.40 L218.68,173.68 L226.02,173.68 L226.02,178.40" fill="none" stroke="#250982" stroke-width="0.55" stroke-opacity="0.85"/>
<path d="M218.68,178.40 L218.68,180.00 M226.02,178.40 L226.02,180.00" fill="none" stroke="#590008" stroke-width="0.55" stroke-opacity="0.85"/>
<path d="M218.68,180.00 L218.68,200.40 M226.02,180.00 L226.02,200.40" fill="none" stroke="#84084b" stroke-width="0.55" stroke-opacity="0.85"/>
<rect x="226.30" y="160.10" width="8.00" height="4.10" fill="#a3000f"/>
<rect x="226.30" y="164.20" width="8.00" height="36.20" fill="#f0108a"/>
<path d="M226.58,164.20 L226.58,160.38 L234.02,160.38 L234.02,164.20" fill="none" stroke="#590008" stroke-width="0.55" stroke-opacity="0.85"/>
<path d="M226.58,164.20 L226.58,200.40 M234.02,164.20 L234.02,200.40" fill="none" stroke="#84084b" stroke-width="0.55" stroke-opacity="0.85"/>
<rect x="234.30" y="166.00" width="8.10" height="1.70" fill="#4412ee"/>
<rect x="234.30" y="167.70" width="8.10" height="32.70" fill="#f0108a"/>
<path d="M234.58,167.70 L234.58,166.28 L242.12,166.28 L242.12,167.70" fill="none" stroke="#250982" stroke-width="0.55" stroke-opacity="0.85"/>
<path d="M234.58,167.70 L234.58,200.40 M242.12,167.70 L242.12,200.40" fill="none" stroke="#84084b" stroke-width="0.55" stroke-opacity="0.85"/>
<line x1="178.70" y1="149.90" x2="178.70" y2="200.40" stroke="#bdbdbd" stroke-width="0.7"/>
<line x1="178.70" y1="200.40" x2="258.70" y2="200.40" stroke="#c4c4c4" stroke-width="0.8"/>
<text x="182.70" y="203.90" font-size="2.9" fill="#1a1a1a" text-anchor="middle" font-weight="bold">5.8</text>
<text x="190.70" y="203.90" font-size="2.9" fill="#1a1a1a" text-anchor="middle" font-weight="bold">6.2</text>
<text x="198.70" y="203.90" font-size="2.9" fill="#1a1a1a" text-anchor="middle" font-weight="bold">7.8</text>
<text x="206.70" y="203.90" font-size="2.9" fill="#1a1a1a" text-anchor="middle" font-weight="bold">8.8</text>
<text x="214.70" y="203.90" font-size="2.9" fill="#1a1a1a" text-anchor="middle" font-weight="bold">9.8</text>
<text x="222.70" y="203.90" font-size="2.9" fill="#1a1a1a" text-anchor="middle" font-weight="bold">10.8</text>
<text x="230.70" y="203.90" font-size="2.9" fill="#1a1a1a" text-anchor="middle" font-weight="bold">11.7</text>
<text x="238.70" y="203.90" font-size="2.9" fill="#1a1a1a" text-anchor="middle" font-weight="bold">12.2</text>
<text x="254.70" y="203.90" font-size="2.9" fill="#1a1a1a" text-anchor="middle" font-weight="bold">16.8</text>
<text x="263.0" y="147.4" font-size="6.3" fill="#1a1a1a" textLength="28.3" lengthAdjust="spacingAndGlyphs" stroke="#1a1a1a" stroke-width="0.12">Patient 16</text>
<line x1="266.00" y1="150.40" x2="346.50" y2="150.40" stroke="#ebebeb" stroke-width="0.6"/>
<line x1="263.80" y1="150.40" x2="265.40" y2="150.40" stroke="#c8c8c8" stroke-width="0.8"/>
<line x1="266.00" y1="157.54" x2="346.50" y2="157.54" stroke="#d4d4d4" stroke-width="0.8"/>
<line x1="263.80" y1="157.54" x2="265.40" y2="157.54" stroke="#c8c8c8" stroke-width="0.8"/>
<line x1="266.00" y1="164.69" x2="346.50" y2="164.69" stroke="#8a8a8a" stroke-width="1.1"/>
<line x1="263.80" y1="164.69" x2="265.40" y2="164.69" stroke="#c8c8c8" stroke-width="0.8"/>
<line x1="266.00" y1="171.83" x2="346.50" y2="171.83" stroke="#d4d4d4" stroke-width="0.8"/>
<line x1="263.80" y1="171.83" x2="265.40" y2="171.83" stroke="#c8c8c8" stroke-width="0.8"/>
<line x1="266.00" y1="178.97" x2="346.50" y2="178.97" stroke="#d4d4d4" stroke-width="0.8"/>
<line x1="263.80" y1="178.97" x2="265.40" y2="178.97" stroke="#c8c8c8" stroke-width="0.8"/>
<line x1="266.00" y1="186.11" x2="346.50" y2="186.11" stroke="#d4d4d4" stroke-width="0.8"/>
<line x1="263.80" y1="186.11" x2="265.40" y2="186.11" stroke="#c8c8c8" stroke-width="0.8"/>
<line x1="266.00" y1="193.26" x2="346.50" y2="193.26" stroke="#d4d4d4" stroke-width="0.8"/>
<line x1="263.80" y1="193.26" x2="265.40" y2="193.26" stroke="#c8c8c8" stroke-width="0.8"/>
<line x1="263.80" y1="200.40" x2="265.40" y2="200.40" stroke="#c8c8c8" stroke-width="0.8"/>
<line x1="346.50" y1="150.40" x2="346.50" y2="200.40" stroke="#e8e8e8" stroke-width="0.6"/>
<rect x="282.80" y="168.10" width="7.60" height="32.30" fill="#ff4fdc"/>
<path d="M283.08,200.40 L283.08,168.38 L290.12,168.38 L290.12,200.40" fill="none" stroke="#8c2b79" stroke-width="0.55" stroke-opacity="0.85"/>
<rect x="323.10" y="161.00" width="7.50" height="39.40" fill="#ff4fdc"/>
<path d="M323.38,200.40 L323.38,161.28 L330.32,161.28 L330.32,200.40" fill="none" stroke="#8c2b79" stroke-width="0.55" stroke-opacity="0.85"/>
<line x1="266.00" y1="149.90" x2="266.00" y2="200.40" stroke="#bdbdbd" stroke-width="0.7"/>
<line x1="266.00" y1="200.40" x2="346.50" y2="200.40" stroke="#c4c4c4" stroke-width="0.8"/>
<text x="286.12" y="203.90" font-size="2.9" fill="#1a1a1a" text-anchor="middle" font-weight="bold">5.7</text>
<text x="326.38" y="203.90" font-size="2.9" fill="#1a1a1a" text-anchor="middle" font-weight="bold">8.8</text>
<text x="349.0" y="147.4" font-size="6.3" fill="#1a1a1a" textLength="28.3" lengthAdjust="spacingAndGlyphs" stroke="#1a1a1a" stroke-width="0.12">Patient 17</text>
<line x1="352.00" y1="150.40" x2="432.50" y2="150.40" stroke="#ebebeb" stroke-width="0.6"/>
<line x1="349.80" y1="150.40" x2="351.40" y2="150.40" stroke="#c8c8c8" stroke-width="0.8"/>
<line x1="352.00" y1="157.54" x2="432.50" y2="157.54" stroke="#d4d4d4" stroke-width="0.8"/>
<line x1="349.80" y1="157.54" x2="351.40" y2="157.54" stroke="#c8c8c8" stroke-width="0.8"/>
<line x1="352.00" y1="164.69" x2="432.50" y2="164.69" stroke="#8a8a8a" stroke-width="1.1"/>
<line x1="349.80" y1="164.69" x2="351.40" y2="164.69" stroke="#c8c8c8" stroke-width="0.8"/>
<line x1="352.00" y1="171.83" x2="432.50" y2="171.83" stroke="#d4d4d4" stroke-width="0.8"/>
<line x1="349.80" y1="171.83" x2="351.40" y2="171.83" stroke="#c8c8c8" stroke-width="0.8"/>
<line x1="352.00" y1="178.97" x2="432.50" y2="178.97" stroke="#d4d4d4" stroke-width="0.8"/>
<line x1="349.80" y1="178.97" x2="351.40" y2="178.97" stroke="#c8c8c8" stroke-width="0.8"/>
<line x1="352.00" y1="186.11" x2="432.50" y2="186.11" stroke="#d4d4d4" stroke-width="0.8"/>
<line x1="349.80" y1="186.11" x2="351.40" y2="186.11" stroke="#c8c8c8" stroke-width="0.8"/>
<line x1="352.00" y1="193.26" x2="432.50" y2="193.26" stroke="#d4d4d4" stroke-width="0.8"/>
<line x1="349.80" y1="193.26" x2="351.40" y2="193.26" stroke="#c8c8c8" stroke-width="0.8"/>
<line x1="349.80" y1="200.40" x2="351.40" y2="200.40" stroke="#c8c8c8" stroke-width="0.8"/>
<line x1="432.50" y1="150.40" x2="432.50" y2="200.40" stroke="#e8e8e8" stroke-width="0.6"/>
<rect x="358.70" y="195.20" width="7.80" height="5.20" fill="#a3000f"/>
<path d="M358.98,200.40 L358.98,195.48 L366.22,195.48 L366.22,200.40" fill="none" stroke="#590008" stroke-width="0.55" stroke-opacity="0.85"/>
<rect x="378.90" y="176.00" width="7.60" height="24.40" fill="#a3000f"/>
<path d="M379.18,200.40 L379.18,176.28 L386.22,176.28 L386.22,200.40" fill="none" stroke="#590008" stroke-width="0.55" stroke-opacity="0.85"/>
<rect x="398.90" y="160.50" width="7.90" height="39.90" fill="#a3000f"/>
<path d="M399.18,200.40 L399.18,160.78 L406.52,160.78 L406.52,200.40" fill="none" stroke="#590008" stroke-width="0.55" stroke-opacity="0.85"/>
<rect x="418.90" y="164.90" width="7.80" height="3.20" fill="#fff0dc"/>
<rect x="418.90" y="168.10" width="7.80" height="7.60" fill="#4412ee"/>
<rect x="418.90" y="175.70" width="7.80" height="24.70" fill="#a3000f"/>
<path d="M419.18,168.10 L419.18,165.18 L426.42,165.18 L426.42,168.10" fill="none" stroke="#8c8479" stroke-width="0.55" stroke-opacity="0.85"/>
<path d="M419.18,168.10 L419.18,175.70 M426.42,168.10 L426.42,175.70" fill="none" stroke="#250982" stroke-width="0.55" stroke-opacity="0.85"/>
<path d="M419.18,175.70 L419.18,200.40 M426.42,175.70 L426.42,200.40" fill="none" stroke="#590008" stroke-width="0.55" stroke-opacity="0.85"/>
<line x1="352.00" y1="149.90" x2="352.00" y2="200.40" stroke="#bdbdbd" stroke-width="0.7"/>
<line x1="352.00" y1="200.40" x2="432.50" y2="200.40" stroke="#c4c4c4" stroke-width="0.8"/>
<text x="362.06" y="203.90" font-size="2.9" fill="#1a1a1a" text-anchor="middle" font-weight="bold">18.8</text>
<text x="382.19" y="203.90" font-size="2.9" fill="#1a1a1a" text-anchor="middle" font-weight="bold">21.0</text>
<text x="402.31" y="203.90" font-size="2.9" fill="#1a1a1a" text-anchor="middle" font-weight="bold">22.2</text>
<text x="422.44" y="203.90" font-size="2.9" fill="#1a1a1a" text-anchor="middle" font-weight="bold">26.8</text>
<text x="434.7" y="147.4" font-size="6.3" fill="#1a1a1a" textLength="24.5" lengthAdjust="spacingAndGlyphs" stroke="#1a1a1a" stroke-width="0.12">Patient 3</text>
<line x1="437.70" y1="150.40" x2="517.50" y2="150.40" stroke="#ebebeb" stroke-width="0.6"/>
<line x1="435.50" y1="150.40" x2="437.10" y2="150.40" stroke="#c8c8c8" stroke-width="0.8"/>
<line x1="437.70" y1="157.54" x2="517.50" y2="157.54" stroke="#d4d4d4" stroke-width="0.8"/>
<line x1="435.50" y1="157.54" x2="437.10" y2="157.54" stroke="#c8c8c8" stroke-width="0.8"/>
<line x1="437.70" y1="164.69" x2="517.50" y2="164.69" stroke="#8a8a8a" stroke-width="1.1"/>
<line x1="435.50" y1="164.69" x2="437.10" y2="164.69" stroke="#c8c8c8" stroke-width="0.8"/>
<line x1="437.70" y1="171.83" x2="517.50" y2="171.83" stroke="#d4d4d4" stroke-width="0.8"/>
<line x1="435.50" y1="171.83" x2="437.10" y2="171.83" stroke="#c8c8c8" stroke-width="0.8"/>
<line x1="437.70" y1="178.97" x2="517.50" y2="178.97" stroke="#d4d4d4" stroke-width="0.8"/>
<line x1="435.50" y1="178.97" x2="437.10" y2="178.97" stroke="#c8c8c8" stroke-width="0.8"/>
<line x1="437.70" y1="186.11" x2="517.50" y2="186.11" stroke="#d4d4d4" stroke-width="0.8"/>
<line x1="435.50" y1="186.11" x2="437.10" y2="186.11" stroke="#c8c8c8" stroke-width="0.8"/>
<line x1="437.70" y1="193.26" x2="517.50" y2="193.26" stroke="#d4d4d4" stroke-width="0.8"/>
<line x1="435.50" y1="193.26" x2="437.10" y2="193.26" stroke="#c8c8c8" stroke-width="0.8"/>
<line x1="435.50" y1="200.40" x2="437.10" y2="200.40" stroke="#c8c8c8" stroke-width="0.8"/>
<line x1="517.50" y1="150.40" x2="517.50" y2="200.40" stroke="#e8e8e8" stroke-width="0.6"/>
<rect x="459.50" y="179.60" width="7.80" height="3.50" fill="#fff0dc"/>
<rect x="459.50" y="183.10" width="7.80" height="17.30" fill="#4412ee"/>
<path d="M459.78,183.10 L459.78,179.88 L467.02,179.88 L467.02,183.10" fill="none" stroke="#8c8479" stroke-width="0.55" stroke-opacity="0.85"/>
<path d="M459.78,183.10 L459.78,200.40 M467.02,183.10 L467.02,200.40" fill="none" stroke="#250982" stroke-width="0.55" stroke-opacity="0.85"/>
<rect x="470.00" y="180.10" width="7.60" height="3.60" fill="#fff0dc"/>
<rect x="470.00" y="183.70" width="7.60" height="16.70" fill="#4412ee"/>
<path d="M470.28,183.70 L470.28,180.38 L477.32,180.38 L477.32,183.70" fill="none" stroke="#8c8479" stroke-width="0.55" stroke-opacity="0.85"/>
<path d="M470.28,183.70 L470.28,200.40 M477.32,183.70 L477.32,200.40" fill="none" stroke="#250982" stroke-width="0.55" stroke-opacity="0.85"/>
<rect x="489.60" y="196.00" width="8.00" height="4.40" fill="#fff0dc"/>
<path d="M489.88,200.40 L489.88,196.28 L497.32,196.28 L497.32,200.40" fill="none" stroke="#8c8479" stroke-width="0.55" stroke-opacity="0.85"/>
<rect x="510.30" y="188.40" width="7.60" height="12.00" fill="#4412ee"/>
<path d="M510.58,200.40 L510.58,188.68 L517.62,188.68 L517.62,200.40" fill="none" stroke="#250982" stroke-width="0.55" stroke-opacity="0.85"/>
<line x1="437.70" y1="149.90" x2="437.70" y2="200.40" stroke="#bdbdbd" stroke-width="0.7"/>
<line x1="437.70" y1="200.40" x2="517.50" y2="200.40" stroke="#c4c4c4" stroke-width="0.8"/>
<text x="442.69" y="203.90" font-size="2.9" fill="#1a1a1a" text-anchor="middle" font-weight="bold">0.8</text>
<text x="452.66" y="203.90" font-size="2.9" fill="#1a1a1a" text-anchor="middle" font-weight="bold">3.8</text>
<text x="462.64" y="203.90" font-size="2.9" fill="#1a1a1a" text-anchor="middle" font-weight="bold">6.6</text>
<text x="472.61" y="203.90" font-size="2.9" fill="#1a1a1a" text-anchor="middle" font-weight="bold">7.2</text>
<text x="482.59" y="203.90" font-size="2.9" fill="#1a1a1a" text-anchor="middle" font-weight="bold">7.8</text>
<text x="492.56" y="203.90" font-size="2.9" fill="#1a1a1a" text-anchor="middle" font-weight="bold">8.1</text>
<text x="502.54" y="203.90" font-size="2.9" fill="#1a1a1a" text-anchor="middle" font-weight="bold">8.8</text>
<text x="512.51" y="203.90" font-size="2.9" fill="#1a1a1a" text-anchor="middle" font-weight="bold">9.8</text>
<text x="78.40" y="156.9" font-size="4.9" fill="#111" text-anchor="middle" textLength="14.2" lengthAdjust="spacingAndGlyphs" stroke="#111" stroke-width="0.1">HSCT</text>
<line x1="78.80" y1="158.40" x2="78.80" y2="167.10" stroke="#111" stroke-width="0.9"/>
<path d="M76.80,165.80 L80.80,165.80 L78.80,169.60 Z" fill="#111"/>
<text x="159.10" y="156.9" font-size="4.9" fill="#111" text-anchor="middle" textLength="14.2" lengthAdjust="spacingAndGlyphs" stroke="#111" stroke-width="0.1">HSCT</text>
<line x1="159.50" y1="158.40" x2="159.50" y2="167.10" stroke="#111" stroke-width="0.9"/>
<path d="M157.50,165.80 L161.50,165.80 L159.50,169.60 Z" fill="#111"/>
<text x="246.80" y="156.9" font-size="4.9" fill="#111" text-anchor="middle" textLength="14.0" lengthAdjust="spacingAndGlyphs" stroke="#111" stroke-width="0.1">HSCT</text>
<line x1="247.20" y1="158.40" x2="247.20" y2="167.10" stroke="#111" stroke-width="0.9"/>
<path d="M245.20,165.80 L249.20,165.80 L247.20,169.60 Z" fill="#111"/>
<text x="339.00" y="156.9" font-size="4.9" fill="#111" text-anchor="middle" textLength="14.0" lengthAdjust="spacingAndGlyphs" stroke="#111" stroke-width="0.1">HSCT</text>
<line x1="339.00" y1="158.40" x2="339.00" y2="167.10" stroke="#111" stroke-width="0.9"/>
<path d="M337.00,165.80 L341.00,165.80 L339.00,169.60 Z" fill="#111"/>
<text x="425.00" y="156.9" font-size="4.9" fill="#111" text-anchor="middle" textLength="14.0" lengthAdjust="spacingAndGlyphs" stroke="#111" stroke-width="0.1">HSCT</text>
<line x1="430.70" y1="158.40" x2="430.70" y2="167.10" stroke="#111" stroke-width="0.9"/>
<path d="M428.70,165.80 L432.70,165.80 L430.70,169.60 Z" fill="#111"/>
<text x="375" y="110.8" font-size="4.6" fill="#111" text-anchor="middle" textLength="15.6" lengthAdjust="spacingAndGlyphs" stroke="#111" stroke-width="0.1">6% Mo7</text>
<line x1="375.90" y1="112.50" x2="375.90" y2="120.90" stroke="#111" stroke-width="0.9"/>
<path d="M373.90,119.60 L377.90,119.60 L375.90,123.40 Z" fill="#111"/>
<text x="483.5" y="154.0" font-size="4.3" fill="#111" text-anchor="middle" textLength="18.6" lengthAdjust="spacingAndGlyphs" stroke="#111" stroke-width="0.1">no G-CSF</text>
<text x="483.9" y="158.9" font-size="4.3" fill="#111" text-anchor="middle" textLength="17.8" lengthAdjust="spacingAndGlyphs" stroke="#111" stroke-width="0.1">treatment</text>
<line x1="479.60" y1="161.10" x2="487.90" y2="161.10" stroke="#222" stroke-width="0.7"/>
<line x1="479.60" y1="159.90" x2="479.60" y2="163.30" stroke="#111" stroke-width="0.9"/>
<line x1="487.90" y1="159.90" x2="487.90" y2="163.30" stroke="#111" stroke-width="0.9"/>
<text x="1.6" y="219.2" font-size="11.5" fill="#000" font-weight="bold">B</text>
<text x="2.4" y="229.3" font-size="7.6" fill="#1a1a1a" textLength="31.6" lengthAdjust="spacingAndGlyphs" stroke="#1a1a1a" stroke-width="0.12">Patient 19</text>
<line x1="7.10" y1="232.40" x2="95.50" y2="232.40" stroke="#ebebeb" stroke-width="0.6"/>
<line x1="4.90" y1="232.40" x2="6.50" y2="232.40" stroke="#c8c8c8" stroke-width="0.8"/>
<line x1="7.10" y1="240.29" x2="95.50" y2="240.29" stroke="#d4d4d4" stroke-width="0.8"/>
<line x1="4.90" y1="240.29" x2="6.50" y2="240.29" stroke="#c8c8c8" stroke-width="0.8"/>
<line x1="7.10" y1="248.17" x2="95.50" y2="248.17" stroke="#8a8a8a" stroke-width="1.1"/>
<line x1="4.90" y1="248.17" x2="6.50" y2="248.17" stroke="#c8c8c8" stroke-width="0.8"/>
<line x1="7.10" y1="256.06" x2="95.50" y2="256.06" stroke="#d4d4d4" stroke-width="0.8"/>
<line x1="4.90" y1="256.06" x2="6.50" y2="256.06" stroke="#c8c8c8" stroke-width="0.8"/>
<line x1="7.10" y1="263.94" x2="95.50" y2="263.94" stroke="#d4d4d4" stroke-width="0.8"/>
<line x1="4.90" y1="263.94" x2="6.50" y2="263.94" stroke="#c8c8c8" stroke-width="0.8"/>
<line x1="7.10" y1="271.83" x2="95.50" y2="271.83" stroke="#d4d4d4" stroke-width="0.8"/>
<line x1="4.90" y1="271.83" x2="6.50" y2="271.83" stroke="#c8c8c8" stroke-width="0.8"/>
<line x1="7.10" y1="279.71" x2="95.50" y2="279.71" stroke="#d4d4d4" stroke-width="0.8"/>
<line x1="4.90" y1="279.71" x2="6.50" y2="279.71" stroke="#c8c8c8" stroke-width="0.8"/>
<line x1="4.90" y1="287.60" x2="6.50" y2="287.60" stroke="#c8c8c8" stroke-width="0.8"/>
<line x1="95.50" y1="232.40" x2="95.50" y2="287.60" stroke="#e8e8e8" stroke-width="0.6"/>
<rect x="47.00" y="255.10" width="8.10" height="32.50" fill="#4412ee"/>
<path d="M47.28,287.60 L47.28,255.38 L54.82,255.38 L54.82,287.60" fill="none" stroke="#250982" stroke-width="0.55" stroke-opacity="0.85"/>
<rect x="76.90" y="255.10" width="8.10" height="32.50" fill="#4412ee"/>
<path d="M77.18,287.60 L77.18,255.38 L84.72,255.38 L84.72,287.60" fill="none" stroke="#250982" stroke-width="0.55" stroke-opacity="0.85"/>
<line x1="7.10" y1="231.90" x2="7.10" y2="287.60" stroke="#bdbdbd" stroke-width="0.7"/>
<line x1="7.10" y1="287.60" x2="95.50" y2="287.60" stroke="#c4c4c4" stroke-width="0.8"/>
<text x="21.83" y="291.10" font-size="3.0" fill="#1a1a1a" text-anchor="middle" font-weight="bold">20.2</text>
<text x="51.30" y="291.10" font-size="3.0" fill="#1a1a1a" text-anchor="middle" font-weight="bold">22.3</text>
<text x="80.77" y="291.10" font-size="3.0" fill="#1a1a1a" text-anchor="middle" font-weight="bold">22.9</text>
<text x="50.95" y="238.65" font-size="5.0" fill="#111" text-anchor="middle" textLength="8.60" lengthAdjust="spacingAndGlyphs" stroke="#111" stroke-width="0.1">Mo7</text>
<text x="80.10" y="238.65" font-size="5.0" fill="#111" text-anchor="middle" textLength="9.10" lengthAdjust="spacingAndGlyphs" stroke="#111" stroke-width="0.1">AML</text>
<text x="98.8" y="229.3" font-size="7.6" fill="#1a1a1a" textLength="31.4" lengthAdjust="spacingAndGlyphs" stroke="#1a1a1a" stroke-width="0.12">Patient 21</text>
<line x1="102.30" y1="232.40" x2="192.00" y2="232.40" stroke="#ebebeb" stroke-width="0.6"/>
<line x1="100.10" y1="232.40" x2="101.70" y2="232.40" stroke="#c8c8c8" stroke-width="0.8"/>
<line x1="102.30" y1="240.29" x2="192.00" y2="240.29" stroke="#d4d4d4" stroke-width="0.8"/>
<line x1="100.10" y1="240.29" x2="101.70" y2="240.29" stroke="#c8c8c8" stroke-width="0.8"/>
<line x1="102.30" y1="248.17" x2="192.00" y2="248.17" stroke="#8a8a8a" stroke-width="1.1"/>
<line x1="100.10" y1="248.17" x2="101.70" y2="248.17" stroke="#c8c8c8" stroke-width="0.8"/>
<line x1="102.30" y1="256.06" x2="192.00" y2="256.06" stroke="#d4d4d4" stroke-width="0.8"/>
<line x1="100.10" y1="256.06" x2="101.70" y2="256.06" stroke="#c8c8c8" stroke-width="0.8"/>
<line x1="102.30" y1="263.94" x2="192.00" y2="263.94" stroke="#d4d4d4" stroke-width="0.8"/>
<line x1="100.10" y1="263.94" x2="101.70" y2="263.94" stroke="#c8c8c8" stroke-width="0.8"/>
<line x1="102.30" y1="271.83" x2="192.00" y2="271.83" stroke="#d4d4d4" stroke-width="0.8"/>
<line x1="100.10" y1="271.83" x2="101.70" y2="271.83" stroke="#c8c8c8" stroke-width="0.8"/>
<line x1="102.30" y1="279.71" x2="192.00" y2="279.71" stroke="#d4d4d4" stroke-width="0.8"/>
<line x1="100.10" y1="279.71" x2="101.70" y2="279.71" stroke="#c8c8c8" stroke-width="0.8"/>
<line x1="100.10" y1="287.60" x2="101.70" y2="287.60" stroke="#c8c8c8" stroke-width="0.8"/>
<line x1="192.00" y1="232.40" x2="192.00" y2="287.60" stroke="#e8e8e8" stroke-width="0.6"/>
<rect x="121.00" y="240.00" width="8.20" height="5.20" fill="#ff4fdc"/>
<rect x="121.00" y="245.20" width="8.20" height="42.40" fill="#a3000f"/>
<path d="M121.28,245.20 L121.28,240.28 L128.92,240.28 L128.92,245.20" fill="none" stroke="#8c2b79" stroke-width="0.55" stroke-opacity="0.85"/>
<path d="M121.28,245.20 L121.28,287.60 M128.92,245.20 L128.92,287.60" fill="none" stroke="#590008" stroke-width="0.55" stroke-opacity="0.85"/>
<rect x="165.40" y="271.70" width="8.40" height="15.90" fill="#a3000f"/>
<path d="M165.68,287.60 L165.68,271.98 L173.52,271.98 L173.52,287.60" fill="none" stroke="#590008" stroke-width="0.55" stroke-opacity="0.85"/>
<line x1="102.30" y1="231.90" x2="102.30" y2="287.60" stroke="#bdbdbd" stroke-width="0.7"/>
<line x1="102.30" y1="287.60" x2="192.00" y2="287.60" stroke="#c4c4c4" stroke-width="0.8"/>
<text x="124.72" y="291.10" font-size="3.0" fill="#1a1a1a" text-anchor="middle" font-weight="bold">16.8</text>
<text x="169.57" y="291.10" font-size="3.0" fill="#1a1a1a" text-anchor="middle" font-weight="bold">20.1</text>
<text x="125.10" y="238.35" font-size="5.0" fill="#111" text-anchor="middle" textLength="7.30" lengthAdjust="spacingAndGlyphs" stroke="#111" stroke-width="0.1">ALL</text>
<text x="169.85" y="238.35" font-size="5.0" fill="#111" text-anchor="middle" textLength="16.20" lengthAdjust="spacingAndGlyphs" stroke="#111" stroke-width="0.1">after CT</text>
<text x="194.8" y="229.3" font-size="7.6" fill="#1a1a1a" textLength="30.8" lengthAdjust="spacingAndGlyphs" stroke="#1a1a1a" stroke-width="0.12">Patient 22</text>
<line x1="197.80" y1="232.40" x2="288.50" y2="232.40" stroke="#ebebeb" stroke-width="0.6"/>
<line x1="195.60" y1="232.40" x2="197.20" y2="232.40" stroke="#c8c8c8" stroke-width="0.8"/>
<line x1="197.80" y1="240.29" x2="288.50" y2="240.29" stroke="#d4d4d4" stroke-width="0.8"/>
<line x1="195.60" y1="240.29" x2="197.20" y2="240.29" stroke="#c8c8c8" stroke-width="0.8"/>
<line x1="197.80" y1="248.17" x2="288.50" y2="248.17" stroke="#8a8a8a" stroke-width="1.1"/>
<line x1="195.60" y1="248.17" x2="197.20" y2="248.17" stroke="#c8c8c8" stroke-width="0.8"/>
<line x1="197.80" y1="256.06" x2="288.50" y2="256.06" stroke="#d4d4d4" stroke-width="0.8"/>
<line x1="195.60" y1="256.06" x2="197.20" y2="256.06" stroke="#c8c8c8" stroke-width="0.8"/>
<line x1="197.80" y1="263.94" x2="288.50" y2="263.94" stroke="#d4d4d4" stroke-width="0.8"/>
<line x1="195.60" y1="263.94" x2="197.20" y2="263.94" stroke="#c8c8c8" stroke-width="0.8"/>
<line x1="197.80" y1="271.83" x2="288.50" y2="271.83" stroke="#d4d4d4" stroke-width="0.8"/>
<line x1="195.60" y1="271.83" x2="197.20" y2="271.83" stroke="#c8c8c8" stroke-width="0.8"/>
<line x1="197.80" y1="279.71" x2="288.50" y2="279.71" stroke="#d4d4d4" stroke-width="0.8"/>
<line x1="195.60" y1="279.71" x2="197.20" y2="279.71" stroke="#c8c8c8" stroke-width="0.8"/>
<line x1="195.60" y1="287.60" x2="197.20" y2="287.60" stroke="#c8c8c8" stroke-width="0.8"/>
<line x1="288.50" y1="232.40" x2="288.50" y2="287.60" stroke="#e8e8e8" stroke-width="0.6"/>
<rect x="205.40" y="282.90" width="8.10" height="4.70" fill="#a3000f"/>
<path d="M205.68,287.60 L205.68,283.18 L213.22,283.18 L213.22,287.60" fill="none" stroke="#590008" stroke-width="0.55" stroke-opacity="0.85"/>
<rect x="227.50" y="256.00" width="8.30" height="31.60" fill="#a3000f"/>
<path d="M227.78,287.60 L227.78,256.28 L235.52,256.28 L235.52,287.60" fill="none" stroke="#590008" stroke-width="0.55" stroke-opacity="0.85"/>
<line x1="197.80" y1="231.90" x2="197.80" y2="287.60" stroke="#bdbdbd" stroke-width="0.7"/>
<line x1="197.80" y1="287.60" x2="288.50" y2="287.60" stroke="#c4c4c4" stroke-width="0.8"/>
<text x="209.14" y="291.10" font-size="3.0" fill="#1a1a1a" text-anchor="middle" font-weight="bold">0.8</text>
<text x="231.81" y="291.10" font-size="3.0" fill="#1a1a1a" text-anchor="middle" font-weight="bold">1.2</text>
<text x="254.49" y="291.10" font-size="3.0" fill="#1a1a1a" text-anchor="middle" font-weight="bold">1.8</text>
<text x="277.16" y="291.10" font-size="3.0" fill="#1a1a1a" text-anchor="middle" font-weight="bold">3.6</text>
<text x="231.25" y="238.25" font-size="5.0" fill="#111" text-anchor="middle" textLength="9.60" lengthAdjust="spacingAndGlyphs" stroke="#111" stroke-width="0.1">MDS</text>
<text x="265.75" y="237.45" font-size="5.0" fill="#111" text-anchor="middle" textLength="8.80" lengthAdjust="spacingAndGlyphs" stroke="#111" stroke-width="0.1">after</text>
<text x="265.40" y="242.85" font-size="5.0" fill="#111" text-anchor="middle" textLength="12.10" lengthAdjust="spacingAndGlyphs" stroke="#111" stroke-width="0.1">HSCT</text>
<line x1="247.20" y1="245.50" x2="284.60" y2="245.50" stroke="#b4b4b4" stroke-width="1.6"/>
<line x1="247.50" y1="243.60" x2="247.50" y2="247.60" stroke="#111" stroke-width="0.8"/>
<line x1="284.30" y1="243.60" x2="284.30" y2="247.60" stroke="#111" stroke-width="0.8"/>
<text x="2.3" y="303.8" font-size="7.6" fill="#1a1a1a" textLength="31.9" lengthAdjust="spacingAndGlyphs" stroke="#1a1a1a" stroke-width="0.12">Patient 23</text>
<line x1="6.20" y1="307.30" x2="95.60" y2="307.30" stroke="#ebebeb" stroke-width="0.6"/>
<line x1="4.00" y1="307.30" x2="5.60" y2="307.30" stroke="#c8c8c8" stroke-width="0.8"/>
<line x1="6.20" y1="315.23" x2="95.60" y2="315.23" stroke="#d4d4d4" stroke-width="0.8"/>
<line x1="4.00" y1="315.23" x2="5.60" y2="315.23" stroke="#c8c8c8" stroke-width="0.8"/>
<line x1="6.20" y1="323.16" x2="95.60" y2="323.16" stroke="#8a8a8a" stroke-width="1.1"/>
<line x1="4.00" y1="323.16" x2="5.60" y2="323.16" stroke="#c8c8c8" stroke-width="0.8"/>
<line x1="6.20" y1="331.09" x2="95.60" y2="331.09" stroke="#d4d4d4" stroke-width="0.8"/>
<line x1="4.00" y1="331.09" x2="5.60" y2="331.09" stroke="#c8c8c8" stroke-width="0.8"/>
<line x1="6.20" y1="339.01" x2="95.60" y2="339.01" stroke="#d4d4d4" stroke-width="0.8"/>
<line x1="4.00" y1="339.01" x2="5.60" y2="339.01" stroke="#c8c8c8" stroke-width="0.8"/>
<line x1="6.20" y1="346.94" x2="95.60" y2="346.94" stroke="#d4d4d4" stroke-width="0.8"/>
<line x1="4.00" y1="346.94" x2="5.60" y2="346.94" stroke="#c8c8c8" stroke-width="0.8"/>
<line x1="6.20" y1="354.87" x2="95.60" y2="354.87" stroke="#d4d4d4" stroke-width="0.8"/>
<line x1="4.00" y1="354.87" x2="5.60" y2="354.87" stroke="#c8c8c8" stroke-width="0.8"/>
<line x1="4.00" y1="362.80" x2="5.60" y2="362.80" stroke="#c8c8c8" stroke-width="0.8"/>
<line x1="95.60" y1="307.30" x2="95.60" y2="362.80" stroke="#e8e8e8" stroke-width="0.6"/>
<rect x="8.30" y="356.70" width="8.40" height="6.10" fill="#ff4fdc"/>
<path d="M8.58,362.80 L8.58,356.98 L16.42,356.98 L16.42,362.80" fill="none" stroke="#8c2b79" stroke-width="0.55" stroke-opacity="0.85"/>
<rect x="21.20" y="356.70" width="8.20" height="6.10" fill="#ff4fdc"/>
<path d="M21.48,362.80 L21.48,356.98 L29.12,356.98 L29.12,362.80" fill="none" stroke="#8c2b79" stroke-width="0.55" stroke-opacity="0.85"/>
<rect x="34.00" y="356.70" width="8.30" height="6.10" fill="#ff4fdc"/>
<path d="M34.28,362.80 L34.28,356.98 L42.02,356.98 L42.02,362.80" fill="none" stroke="#8c2b79" stroke-width="0.55" stroke-opacity="0.85"/>
<rect x="46.70" y="358.30" width="8.50" height="4.50" fill="#ff4fdc"/>
<path d="M46.98,362.80 L46.98,358.58 L54.92,358.58 L54.92,362.80" fill="none" stroke="#8c2b79" stroke-width="0.55" stroke-opacity="0.85"/>
<rect x="59.20" y="323.10" width="8.70" height="39.70" fill="#ff4fdc"/>
<path d="M59.48,362.80 L59.48,323.38 L67.62,323.38 L67.62,362.80" fill="none" stroke="#8c2b79" stroke-width="0.55" stroke-opacity="0.85"/>
<rect x="72.10" y="340.00" width="8.30" height="22.80" fill="#ff4fdc"/>
<path d="M72.38,362.80 L72.38,340.28 L80.12,340.28 L80.12,362.80" fill="none" stroke="#8c2b79" stroke-width="0.55" stroke-opacity="0.85"/>
<line x1="6.20" y1="306.80" x2="6.20" y2="362.80" stroke="#bdbdbd" stroke-width="0.7"/>
<line x1="6.20" y1="362.80" x2="95.60" y2="362.80" stroke="#c4c4c4" stroke-width="0.8"/>
<text x="12.59" y="366.30" font-size="3.0" fill="#1a1a1a" text-anchor="middle" font-weight="bold">6.3</text>
<text x="25.36" y="366.30" font-size="3.0" fill="#1a1a1a" text-anchor="middle" font-weight="bold">7.4</text>
<text x="38.13" y="366.30" font-size="3.0" fill="#1a1a1a" text-anchor="middle" font-weight="bold">7.8</text>
<text x="50.90" y="366.30" font-size="3.0" fill="#1a1a1a" text-anchor="middle" font-weight="bold">8.2</text>
<text x="63.67" y="366.30" font-size="3.0" fill="#1a1a1a" text-anchor="middle" font-weight="bold">10.0</text>
<text x="76.44" y="366.30" font-size="3.0" fill="#1a1a1a" text-anchor="middle" font-weight="bold">10.8</text>
<text x="89.21" y="366.30" font-size="3.0" fill="#1a1a1a" text-anchor="middle" font-weight="bold">11.6</text>
<ellipse cx="12.6" cy="352.6" rx="1.0" ry="0.75" fill="#111"/>
<ellipse cx="25.3" cy="352.6" rx="1.0" ry="0.75" fill="#111"/>
<ellipse cx="38.1" cy="352.6" rx="1.0" ry="0.75" fill="#111"/>
<ellipse cx="50.9" cy="352.6" rx="1.0" ry="0.75" fill="#111"/>
<text x="70.60" y="313.55" font-size="5.0" fill="#111" text-anchor="middle" textLength="9.70" lengthAdjust="spacingAndGlyphs" stroke="#111" stroke-width="0.1">MDS</text>
<line x1="60.60" y1="320.30" x2="80.10" y2="320.30" stroke="#333" stroke-width="0.7"/>
<line x1="60.90" y1="318.20" x2="60.90" y2="322.90" stroke="#111" stroke-width="0.8"/>
<line x1="79.80" y1="318.20" x2="79.80" y2="322.90" stroke="#111" stroke-width="0.8"/>
<text x="90.50" y="312.25" font-size="5.0" fill="#111" text-anchor="middle" textLength="7.50" lengthAdjust="spacingAndGlyphs" stroke="#111" stroke-width="0.1">after</text>
<text x="91.10" y="317.45" font-size="5.0" fill="#111" text-anchor="middle" textLength="11.70" lengthAdjust="spacingAndGlyphs" stroke="#111" stroke-width="0.1">HSCT</text>
<text x="98.8" y="303.8" font-size="7.6" fill="#1a1a1a" textLength="31.4" lengthAdjust="spacingAndGlyphs" stroke="#1a1a1a" stroke-width="0.12">Patient 24</text>
<line x1="102.30" y1="307.30" x2="191.20" y2="307.30" stroke="#ebebeb" stroke-width="0.6"/>
<line x1="100.10" y1="307.30" x2="101.70" y2="307.30" stroke="#c8c8c8" stroke-width="0.8"/>
<line x1="102.30" y1="315.23" x2="191.20" y2="315.23" stroke="#d4d4d4" stroke-width="0.8"/>
<line x1="100.10" y1="315.23" x2="101.70" y2="315.23" stroke="#c8c8c8" stroke-width="0.8"/>
<line x1="102.30" y1="323.16" x2="191.20" y2="323.16" stroke="#8a8a8a" stroke-width="1.1"/>
<line x1="100.10" y1="323.16" x2="101.70" y2="323.16" stroke="#c8c8c8" stroke-width="0.8"/>
<line x1="102.30" y1="331.09" x2="191.20" y2="331.09" stroke="#d4d4d4" stroke-width="0.8"/>
<line x1="100.10" y1="331.09" x2="101.70" y2="331.09" stroke="#c8c8c8" stroke-width="0.8"/>
<line x1="102.30" y1="339.01" x2="191.20" y2="339.01" stroke="#d4d4d4" stroke-width="0.8"/>
<line x1="100.10" y1="339.01" x2="101.70" y2="339.01" stroke="#c8c8c8" stroke-width="0.8"/>
<line x1="102.30" y1="346.94" x2="191.20" y2="346.94" stroke="#d4d4d4" stroke-width="0.8"/>
<line x1="100.10" y1="346.94" x2="101.70" y2="346.94" stroke="#c8c8c8" stroke-width="0.8"/>
<line x1="102.30" y1="354.87" x2="191.20" y2="354.87" stroke="#d4d4d4" stroke-width="0.8"/>
<line x1="100.10" y1="354.87" x2="101.70" y2="354.87" stroke="#c8c8c8" stroke-width="0.8"/>
<line x1="100.10" y1="362.80" x2="101.70" y2="362.80" stroke="#c8c8c8" stroke-width="0.8"/>
<line x1="191.20" y1="307.30" x2="191.20" y2="362.80" stroke="#e8e8e8" stroke-width="0.6"/>
<rect x="126.30" y="333.30" width="8.50" height="29.50" fill="#4412ee"/>
<path d="M126.58,362.80 L126.58,333.58 L134.52,333.58 L134.52,362.80" fill="none" stroke="#250982" stroke-width="0.55" stroke-opacity="0.85"/>
<rect x="137.30" y="323.10" width="8.70" height="39.70" fill="#4412ee"/>
<path d="M137.58,362.80 L137.58,323.38 L145.72,323.38 L145.72,362.80" fill="none" stroke="#250982" stroke-width="0.55" stroke-opacity="0.85"/>
<rect x="148.80" y="358.70" width="8.70" height="4.10" fill="#4412ee"/>
<path d="M149.08,362.80 L149.08,358.98 L157.22,358.98 L157.22,362.80" fill="none" stroke="#250982" stroke-width="0.55" stroke-opacity="0.85"/>
<rect x="171.30" y="348.10" width="8.30" height="14.70" fill="#4412ee"/>
<path d="M171.58,362.80 L171.58,348.38 L179.32,348.38 L179.32,362.80" fill="none" stroke="#250982" stroke-width="0.55" stroke-opacity="0.85"/>
<rect x="182.50" y="307.30" width="8.30" height="55.50" fill="#4412ee"/>
<path d="M182.78,362.80 L182.78,307.58 L190.52,307.58 L190.52,362.80" fill="none" stroke="#250982" stroke-width="0.55" stroke-opacity="0.85"/>
<line x1="102.30" y1="306.80" x2="102.30" y2="362.80" stroke="#bdbdbd" stroke-width="0.7"/>
<line x1="102.30" y1="362.80" x2="191.20" y2="362.80" stroke="#c4c4c4" stroke-width="0.8"/>
<text x="107.86" y="366.30" font-size="3.0" fill="#1a1a1a" text-anchor="middle" font-weight="bold">2.8</text>
<text x="118.97" y="366.30" font-size="3.0" fill="#1a1a1a" text-anchor="middle" font-weight="bold">3.8</text>
<text x="130.08" y="366.30" font-size="3.0" fill="#1a1a1a" text-anchor="middle" font-weight="bold">6.3</text>
<text x="141.19" y="366.30" font-size="3.0" fill="#1a1a1a" text-anchor="middle" font-weight="bold">6.7</text>
<text x="152.31" y="366.30" font-size="3.0" fill="#1a1a1a" text-anchor="middle" font-weight="bold">6.8</text>
<text x="163.42" y="366.30" font-size="3.0" fill="#1a1a1a" text-anchor="middle" font-weight="bold">8.8</text>
<text x="174.53" y="366.30" font-size="3.0" fill="#1a1a1a" text-anchor="middle" font-weight="bold">9.2</text>
<text x="185.64" y="366.30" font-size="3.0" fill="#1a1a1a" text-anchor="middle" font-weight="bold">9.3</text>
<text x="141.90" y="313.65" font-size="5.0" fill="#111" text-anchor="middle" textLength="9.10" lengthAdjust="spacingAndGlyphs" stroke="#111" stroke-width="0.1">AML</text>
<text x="158.50" y="312.75" font-size="5.0" fill="#111" text-anchor="middle" textLength="8.30" lengthAdjust="spacingAndGlyphs" stroke="#111" stroke-width="0.1">after</text>
<text x="158.50" y="318.15" font-size="5.0" fill="#111" text-anchor="middle" textLength="5.50" lengthAdjust="spacingAndGlyphs" stroke="#111" stroke-width="0.1">CT</text>
<line x1="150.40" y1="321.20" x2="166.00" y2="321.20" stroke="#aaaaaa" stroke-width="1.4"/>
<line x1="150.70" y1="318.90" x2="150.70" y2="323.50" stroke="#111" stroke-width="0.8"/>
<line x1="165.70" y1="318.90" x2="165.70" y2="323.50" stroke="#111" stroke-width="0.8"/>
<text x="0" y="0" font-size="4.8" fill="#111" stroke="#111" stroke-width="0.12" textLength="26.6" lengthAdjust="spacingAndGlyphs" transform="translate(178.4,338.1) rotate(-90)">AML relapse</text>
<text x="194.8" y="303.8" font-size="7.6" fill="#1a1a1a" textLength="30.8" lengthAdjust="spacingAndGlyphs" stroke="#1a1a1a" stroke-width="0.12">Patient 25</text>
<line x1="197.30" y1="307.30" x2="287.10" y2="307.30" stroke="#ebebeb" stroke-width="0.6"/>
<line x1="195.10" y1="307.30" x2="196.70" y2="307.30" stroke="#c8c8c8" stroke-width="0.8"/>
<line x1="197.30" y1="315.23" x2="287.10" y2="315.23" stroke="#d4d4d4" stroke-width="0.8"/>
<line x1="195.10" y1="315.23" x2="196.70" y2="315.23" stroke="#c8c8c8" stroke-width="0.8"/>
<line x1="197.30" y1="323.16" x2="287.10" y2="323.16" stroke="#8a8a8a" stroke-width="1.1"/>
<line x1="195.10" y1="323.16" x2="196.70" y2="323.16" stroke="#c8c8c8" stroke-width="0.8"/>
<line x1="197.30" y1="331.09" x2="287.10" y2="331.09" stroke="#d4d4d4" stroke-width="0.8"/>
<line x1="195.10" y1="331.09" x2="196.70" y2="331.09" stroke="#c8c8c8" stroke-width="0.8"/>
<line x1="197.30" y1="339.01" x2="287.10" y2="339.01" stroke="#d4d4d4" stroke-width="0.8"/>
<line x1="195.10" y1="339.01" x2="196.70" y2="339.01" stroke="#c8c8c8" stroke-width="0.8"/>
<line x1="197.30" y1="346.94" x2="287.10" y2="346.94" stroke="#d4d4d4" stroke-width="0.8"/>
<line x1="195.10" y1="346.94" x2="196.70" y2="346.94" stroke="#c8c8c8" stroke-width="0.8"/>
<line x1="197.30" y1="354.87" x2="287.10" y2="354.87" stroke="#d4d4d4" stroke-width="0.8"/>
<line x1="195.10" y1="354.87" x2="196.70" y2="354.87" stroke="#c8c8c8" stroke-width="0.8"/>
<line x1="195.10" y1="362.80" x2="196.70" y2="362.80" stroke="#c8c8c8" stroke-width="0.8"/>
<line x1="287.10" y1="307.30" x2="287.10" y2="362.80" stroke="#e8e8e8" stroke-width="0.6"/>
<rect x="212.30" y="307.30" width="5.00" height="55.50" fill="#a3000f"/>
<path d="M212.58,362.80 L212.58,307.58 L217.02,307.58 L217.02,362.80" fill="none" stroke="#590008" stroke-width="0.55" stroke-opacity="0.85"/>
<rect x="223.60" y="335.20" width="5.00" height="27.60" fill="#a3000f"/>
<path d="M223.88,362.80 L223.88,335.48 L228.32,335.48 L228.32,362.80" fill="none" stroke="#590008" stroke-width="0.55" stroke-opacity="0.85"/>
<rect x="234.80" y="342.90" width="5.10" height="4.80" fill="#5e0032"/>
<rect x="234.80" y="347.70" width="5.10" height="4.80" fill="#fff4ee"/>
<rect x="234.80" y="352.50" width="5.10" height="10.30" fill="#a3000f"/>
<path d="M235.08,347.70 L235.08,343.18 L239.62,343.18 L239.62,347.70" fill="none" stroke="#33001b" stroke-width="0.55" stroke-opacity="0.85"/>
<path d="M235.08,347.70 L235.08,352.50 M239.62,347.70 L239.62,352.50" fill="none" stroke="#8c8682" stroke-width="0.55" stroke-opacity="0.85"/>
<path d="M235.08,352.50 L235.08,362.80 M239.62,352.50 L239.62,362.80" fill="none" stroke="#590008" stroke-width="0.55" stroke-opacity="0.85"/>
<rect x="245.80" y="327.90" width="5.30" height="2.90" fill="#f070b0"/>
<rect x="245.80" y="330.80" width="5.30" height="32.00" fill="#a3000f"/>
<path d="M246.08,330.80 L246.08,328.18 L250.82,328.18 L250.82,330.80" fill="none" stroke="#843d60" stroke-width="0.55" stroke-opacity="0.85"/>
<path d="M246.08,330.80 L246.08,362.80 M250.82,330.80 L250.82,362.80" fill="none" stroke="#590008" stroke-width="0.55" stroke-opacity="0.85"/>
<line x1="197.30" y1="306.80" x2="197.30" y2="362.80" stroke="#bdbdbd" stroke-width="0.7"/>
<line x1="197.30" y1="362.80" x2="287.10" y2="362.80" stroke="#c4c4c4" stroke-width="0.8"/>
<text x="202.91" y="366.30" font-size="3.0" fill="#1a1a1a" text-anchor="middle" font-weight="bold">9.6</text>
<text x="214.14" y="366.30" font-size="3.0" fill="#1a1a1a" text-anchor="middle" font-weight="bold">12.9</text>
<text x="225.36" y="366.30" font-size="3.0" fill="#1a1a1a" text-anchor="middle" font-weight="bold">14.6</text>
<text x="236.59" y="366.30" font-size="3.0" fill="#1a1a1a" text-anchor="middle" font-weight="bold">15.6</text>
<text x="247.81" y="366.30" font-size="3.0" fill="#1a1a1a" text-anchor="middle" font-weight="bold">16.8</text>
<text x="259.04" y="366.30" font-size="3.0" fill="#1a1a1a" text-anchor="middle" font-weight="bold">17.0</text>
<text x="270.26" y="366.30" font-size="3.0" fill="#1a1a1a" text-anchor="middle" font-weight="bold">17.1</text>
<text x="281.49" y="366.30" font-size="3.0" fill="#1a1a1a" text-anchor="middle" font-weight="bold">18.2</text>
<text x="248.45" y="317.05" font-size="5.0" fill="#111" text-anchor="middle" textLength="8.60" lengthAdjust="spacingAndGlyphs" stroke="#111" stroke-width="0.1">AML</text>
<text x="260.40" y="317.05" font-size="5.0" fill="#111" text-anchor="middle" textLength="5.50" lengthAdjust="spacingAndGlyphs" stroke="#111" stroke-width="0.1">CT</text>
<text x="269.30" y="317.05" font-size="5.0" fill="#111" text-anchor="middle" textLength="5.30" lengthAdjust="spacingAndGlyphs" stroke="#111" stroke-width="0.1">CR</text>
<text x="280.70" y="315.45" font-size="5.0" fill="#111" text-anchor="middle" textLength="8.30" lengthAdjust="spacingAndGlyphs" stroke="#111" stroke-width="0.1">after</text>
<text x="281.15" y="320.95" font-size="5.0" fill="#111" text-anchor="middle" textLength="11.20" lengthAdjust="spacingAndGlyphs" stroke="#111" stroke-width="0.1">HSCT</text>
<text x="2.3" y="379.3" font-size="7.6" fill="#1a1a1a" textLength="31.9" lengthAdjust="spacingAndGlyphs" stroke="#1a1a1a" stroke-width="0.12">Patient 26</text>
<line x1="6.70" y1="382.50" x2="95.60" y2="382.50" stroke="#ebebeb" stroke-width="0.6"/>
<line x1="4.50" y1="382.50" x2="6.10" y2="382.50" stroke="#c8c8c8" stroke-width="0.8"/>
<line x1="6.70" y1="390.40" x2="95.60" y2="390.40" stroke="#d4d4d4" stroke-width="0.8"/>
<line x1="4.50" y1="390.40" x2="6.10" y2="390.40" stroke="#c8c8c8" stroke-width="0.8"/>
<line x1="6.70" y1="398.30" x2="95.60" y2="398.30" stroke="#8a8a8a" stroke-width="1.1"/>
<line x1="4.50" y1="398.30" x2="6.10" y2="398.30" stroke="#c8c8c8" stroke-width="0.8"/>
<line x1="6.70" y1="406.20" x2="95.60" y2="406.20" stroke="#d4d4d4" stroke-width="0.8"/>
<line x1="4.50" y1="406.20" x2="6.10" y2="406.20" stroke="#c8c8c8" stroke-width="0.8"/>
<line x1="6.70" y1="414.10" x2="95.60" y2="414.10" stroke="#d4d4d4" stroke-width="0.8"/>
<line x1="4.50" y1="414.10" x2="6.10" y2="414.10" stroke="#c8c8c8" stroke-width="0.8"/>
<line x1="6.70" y1="422.00" x2="95.60" y2="422.00" stroke="#d4d4d4" stroke-width="0.8"/>
<line x1="4.50" y1="422.00" x2="6.10" y2="422.00" stroke="#c8c8c8" stroke-width="0.8"/>
<line x1="6.70" y1="429.90" x2="95.60" y2="429.90" stroke="#d4d4d4" stroke-width="0.8"/>
<line x1="4.50" y1="429.90" x2="6.10" y2="429.90" stroke="#c8c8c8" stroke-width="0.8"/>
<line x1="4.50" y1="437.80" x2="6.10" y2="437.80" stroke="#c8c8c8" stroke-width="0.8"/>
<line x1="95.60" y1="382.50" x2="95.60" y2="437.80" stroke="#e8e8e8" stroke-width="0.6"/>
<rect x="18.70" y="384.80" width="8.60" height="14.00" fill="#ff4fdc"/>
<rect x="18.70" y="398.80" width="8.60" height="39.00" fill="#ff78b8"/>
<path d="M18.98,398.80 L18.98,385.08 L27.02,385.08 L27.02,398.80" fill="none" stroke="#8c2b79" stroke-width="0.55" stroke-opacity="0.85"/>
<path d="M18.98,398.80 L18.98,437.80 M27.02,398.80 L27.02,437.80" fill="none" stroke="#8c4265" stroke-width="0.55" stroke-opacity="0.85"/>
<rect x="29.80" y="417.10" width="8.70" height="20.70" fill="#ff78b8"/>
<path d="M30.08,437.80 L30.08,417.38 L38.22,417.38 L38.22,437.80" fill="none" stroke="#8c4265" stroke-width="0.55" stroke-opacity="0.85"/>
<rect x="41.00" y="412.30" width="8.60" height="7.30" fill="#ff4fdc"/>
<rect x="41.00" y="419.60" width="8.60" height="18.20" fill="#ff78b8"/>
<path d="M41.28,419.60 L41.28,412.58 L49.32,412.58 L49.32,419.60" fill="none" stroke="#8c2b79" stroke-width="0.55" stroke-opacity="0.85"/>
<path d="M41.28,419.60 L41.28,437.80 M49.32,419.60 L49.32,437.80" fill="none" stroke="#8c4265" stroke-width="0.55" stroke-opacity="0.85"/>
<rect x="52.30" y="408.10" width="8.70" height="4.60" fill="#5e0032"/>
<rect x="52.30" y="412.70" width="8.70" height="5.40" fill="#aa0022"/>
<rect x="52.30" y="418.10" width="8.70" height="4.80" fill="#ff4fdc"/>
<rect x="52.30" y="422.90" width="8.70" height="14.90" fill="#ff78b8"/>
<path d="M52.58,412.70 L52.58,408.38 L60.72,408.38 L60.72,412.70" fill="none" stroke="#33001b" stroke-width="0.55" stroke-opacity="0.85"/>
<path d="M52.58,412.70 L52.58,418.10 M60.72,412.70 L60.72,418.10" fill="none" stroke="#5d0012" stroke-width="0.55" stroke-opacity="0.85"/>
<path d="M52.58,418.10 L52.58,422.90 M60.72,418.10 L60.72,422.90" fill="none" stroke="#8c2b79" stroke-width="0.55" stroke-opacity="0.85"/>
<path d="M52.58,422.90 L52.58,437.80 M60.72,422.90 L60.72,437.80" fill="none" stroke="#8c4265" stroke-width="0.55" stroke-opacity="0.85"/>
<rect x="63.50" y="406.90" width="8.60" height="30.90" fill="#a3000f"/>
<path d="M63.78,437.80 L63.78,407.18 L71.82,407.18 L71.82,437.80" fill="none" stroke="#590008" stroke-width="0.55" stroke-opacity="0.85"/>
<rect x="74.60" y="390.80" width="8.70" height="47.00" fill="#a3000f"/>
<path d="M74.88,437.80 L74.88,391.08 L83.02,391.08 L83.02,437.80" fill="none" stroke="#590008" stroke-width="0.55" stroke-opacity="0.85"/>
<rect x="86.00" y="434.80" width="8.60" height="3.00" fill="#ff78b8"/>
<path d="M86.28,437.80 L86.28,435.08 L94.32,435.08 L94.32,437.80" fill="none" stroke="#8c4265" stroke-width="0.55" stroke-opacity="0.85"/>
<line x1="6.70" y1="382.00" x2="6.70" y2="437.80" stroke="#bdbdbd" stroke-width="0.7"/>
<line x1="6.70" y1="437.80" x2="95.60" y2="437.80" stroke="#c4c4c4" stroke-width="0.8"/>
<text x="12.26" y="441.30" font-size="3.0" fill="#1a1a1a" text-anchor="middle" font-weight="bold">8.8</text>
<text x="23.37" y="441.30" font-size="3.0" fill="#1a1a1a" text-anchor="middle" font-weight="bold">16.8</text>
<text x="34.48" y="441.30" font-size="3.0" fill="#1a1a1a" text-anchor="middle" font-weight="bold">17.3</text>
<text x="45.59" y="441.30" font-size="3.0" fill="#1a1a1a" text-anchor="middle" font-weight="bold">18.8</text>
<text x="56.71" y="441.30" font-size="3.0" fill="#1a1a1a" text-anchor="middle" font-weight="bold">20.3</text>
<text x="67.82" y="441.30" font-size="3.0" fill="#1a1a1a" text-anchor="middle" font-weight="bold">20.8</text>
<text x="78.93" y="441.30" font-size="3.0" fill="#1a1a1a" text-anchor="middle" font-weight="bold">21.2</text>
<text x="90.04" y="441.30" font-size="3.0" fill="#1a1a1a" text-anchor="middle" font-weight="bold">21.3</text>
<text x="79.15" y="387.45" font-size="5.0" fill="#111" text-anchor="middle" textLength="8.40" lengthAdjust="spacingAndGlyphs" stroke="#111" stroke-width="0.1">AML</text>
<text x="90.50" y="386.65" font-size="5.0" fill="#111" text-anchor="middle" textLength="7.90" lengthAdjust="spacingAndGlyphs" stroke="#111" stroke-width="0.1">after</text>
<text x="90.70" y="392.25" font-size="5.0" fill="#111" text-anchor="middle" textLength="4.90" lengthAdjust="spacingAndGlyphs" stroke="#111" stroke-width="0.1">CT</text>
<text x="307.5" y="219.4" font-size="12" fill="#000" font-weight="bold">C</text>
<line x1="318.50" y1="231.30" x2="497.50" y2="231.30" stroke="#d4d4d4" stroke-width="0.8"/>
<line x1="318.50" y1="248.19" x2="497.50" y2="248.19" stroke="#d4d4d4" stroke-width="0.8"/>
<line x1="318.50" y1="281.96" x2="497.50" y2="281.96" stroke="#d4d4d4" stroke-width="0.8"/>
<line x1="318.50" y1="298.84" x2="497.50" y2="298.84" stroke="#d4d4d4" stroke-width="0.8"/>
<line x1="318.50" y1="315.73" x2="497.50" y2="315.73" stroke="#d4d4d4" stroke-width="0.8"/>
<line x1="318.50" y1="332.61" x2="497.50" y2="332.61" stroke="#d4d4d4" stroke-width="0.8"/>
<line x1="497.50" y1="231.30" x2="497.50" y2="349.50" stroke="#dcdcdc" stroke-width="0.7"/>
<text x="314.2" y="350.40" font-size="2.6" fill="#444" text-anchor="end" font-weight="bold">0</text>
<text x="314.2" y="333.51" font-size="2.6" fill="#444" text-anchor="end" font-weight="bold">10</text>
<text x="314.2" y="316.63" font-size="2.6" fill="#444" text-anchor="end" font-weight="bold">20</text>
<text x="314.2" y="299.74" font-size="2.6" fill="#444" text-anchor="end" font-weight="bold">30</text>
<text x="314.2" y="282.86" font-size="2.6" fill="#444" text-anchor="end" font-weight="bold">40</text>
<text x="314.2" y="265.97" font-size="2.6" fill="#444" text-anchor="end" font-weight="bold">50</text>
<text x="314.2" y="249.09" font-size="2.6" fill="#444" text-anchor="end" font-weight="bold">60</text>
<text x="314.2" y="232.20" font-size="2.6" fill="#444" text-anchor="end" font-weight="bold">70</text>
<line x1="318.50" y1="265.07" x2="497.50" y2="265.07" stroke="#5a5a5a" stroke-width="1.2" stroke-dasharray="2.2,0.7"/>
<rect x="319.60" y="303.80" width="7.70" height="45.70" fill="#4412ee"/>
<path d="M319.88,349.50 L319.88,304.08 L327.02,304.08 L327.02,349.50" fill="none" stroke="#250982" stroke-width="0.55" stroke-opacity="0.85"/>
<rect x="330.40" y="250.10" width="7.60" height="99.40" fill="#4412ee"/>
<path d="M330.68,349.50 L330.68,250.38 L337.72,250.38 L337.72,349.50" fill="none" stroke="#250982" stroke-width="0.55" stroke-opacity="0.85"/>
<rect x="351.20" y="281.70" width="7.90" height="67.80" fill="#a3000f"/>
<path d="M351.48,349.50 L351.48,281.98 L358.82,281.98 L358.82,349.50" fill="none" stroke="#590008" stroke-width="0.55" stroke-opacity="0.85"/>
<rect x="361.70" y="276.70" width="8.10" height="72.80" fill="#ff4fdc"/>
<path d="M361.98,349.50 L361.98,276.98 L369.52,276.98 L369.52,349.50" fill="none" stroke="#8c2b79" stroke-width="0.55" stroke-opacity="0.85"/>
<rect x="372.50" y="304.40" width="7.90" height="11.30" fill="#4412ee"/>
<rect x="372.50" y="315.70" width="7.90" height="33.80" fill="#a3000f"/>
<path d="M372.78,315.70 L372.78,304.68 L380.12,304.68 L380.12,315.70" fill="none" stroke="#250982" stroke-width="0.55" stroke-opacity="0.85"/>
<path d="M372.78,315.70 L372.78,349.50 M380.12,315.70 L380.12,349.50" fill="none" stroke="#590008" stroke-width="0.55" stroke-opacity="0.85"/>
<rect x="393.60" y="283.80" width="7.20" height="65.70" fill="#4412ee"/>
<path d="M393.88,349.50 L393.88,284.08 L400.52,284.08 L400.52,349.50" fill="none" stroke="#250982" stroke-width="0.55" stroke-opacity="0.85"/>
<rect x="404.40" y="230.00" width="7.50" height="119.50" fill="#ff4fdc"/>
<path d="M404.68,349.50 L404.68,230.28 L411.62,230.28 L411.62,349.50" fill="none" stroke="#8c2b79" stroke-width="0.55" stroke-opacity="0.85"/>
<rect x="414.80" y="248.20" width="7.60" height="11.00" fill="#ff4fdc"/>
<rect x="414.80" y="259.20" width="7.60" height="90.30" fill="#a3000f"/>
<path d="M415.08,259.20 L415.08,248.48 L422.12,248.48 L422.12,259.20" fill="none" stroke="#8c2b79" stroke-width="0.55" stroke-opacity="0.85"/>
<path d="M415.08,259.20 L415.08,349.50 M422.12,259.20 L422.12,349.50" fill="none" stroke="#590008" stroke-width="0.55" stroke-opacity="0.85"/>
<rect x="425.40" y="265.30" width="7.40" height="84.20" fill="#4412ee"/>
<path d="M425.68,349.50 L425.68,265.58 L432.52,265.58 L432.52,349.50" fill="none" stroke="#250982" stroke-width="0.55" stroke-opacity="0.85"/>
<rect x="435.80" y="276.30" width="7.80" height="5.40" fill="#ff4fdc"/>
<rect x="435.80" y="281.70" width="7.80" height="67.80" fill="#a3000f"/>
<path d="M436.08,281.70 L436.08,276.58 L443.32,276.58 L443.32,281.70" fill="none" stroke="#8c2b79" stroke-width="0.55" stroke-opacity="0.85"/>
<path d="M436.08,281.70 L436.08,349.50 M443.32,281.70 L443.32,349.50" fill="none" stroke="#590008" stroke-width="0.55" stroke-opacity="0.85"/>
<rect x="446.30" y="250.20" width="7.50" height="99.30" fill="#a3000f"/>
<path d="M446.58,349.50 L446.58,250.48 L453.52,250.48 L453.52,349.50" fill="none" stroke="#590008" stroke-width="0.55" stroke-opacity="0.85"/>
<rect x="457.00" y="258.30" width="7.60" height="91.20" fill="#5e0032"/>
<path d="M457.28,349.50 L457.28,258.58 L464.32,258.58 L464.32,349.50" fill="none" stroke="#33001b" stroke-width="0.55" stroke-opacity="0.85"/>
<rect x="467.30" y="295.10" width="7.70" height="54.40" fill="#4412ee"/>
<path d="M467.58,349.50 L467.58,295.38 L474.72,295.38 L474.72,349.50" fill="none" stroke="#250982" stroke-width="0.55" stroke-opacity="0.85"/>
<rect x="478.10" y="249.70" width="7.70" height="3.00" fill="#00501e"/>
<rect x="478.10" y="252.70" width="7.70" height="96.80" fill="#7a7aff"/>
<path d="M478.38,252.70 L478.38,249.98 L485.52,249.98 L485.52,252.70" fill="none" stroke="#002c10" stroke-width="0.55" stroke-opacity="0.85"/>
<path d="M478.38,252.70 L478.38,349.50 M485.52,252.70 L485.52,349.50" fill="none" stroke="#43438c" stroke-width="0.55" stroke-opacity="0.85"/>
<rect x="488.50" y="290.10" width="7.80" height="59.40" fill="#ff4fdc"/>
<path d="M488.78,349.50 L488.78,290.38 L496.02,290.38 L496.02,349.50" fill="none" stroke="#8c2b79" stroke-width="0.55" stroke-opacity="0.85"/>
<line x1="318.50" y1="230.80" x2="318.50" y2="349.50" stroke="#c0c0c0" stroke-width="0.7"/>
<line x1="318.50" y1="349.50" x2="497.50" y2="349.50" stroke="#c0c0c0" stroke-width="0.8"/>
<text x="407.9" y="230.2" font-size="2.8" fill="#333" text-anchor="middle" font-weight="bold" textLength="6.2" lengthAdjust="spacingAndGlyphs">100%</text>
<text x="323.45" y="353.2" font-size="3.3" fill="#1a1a1a" text-anchor="middle" font-weight="bold">27</text>
<text x="334.20" y="353.2" font-size="3.3" fill="#1a1a1a" text-anchor="middle" font-weight="bold">28</text>
<text x="355.15" y="353.2" font-size="3.3" fill="#1a1a1a" text-anchor="middle" font-weight="bold">22</text>
<text x="365.75" y="353.2" font-size="3.3" fill="#1a1a1a" text-anchor="middle" font-weight="bold">23</text>
<text x="376.45" y="353.2" font-size="3.3" fill="#1a1a1a" text-anchor="middle" font-weight="bold">29</text>
<text x="397.20" y="353.2" font-size="3.3" fill="#1a1a1a" text-anchor="middle" font-weight="bold">19</text>
<text x="408.15" y="353.2" font-size="3.3" fill="#1a1a1a" text-anchor="middle" font-weight="bold">20</text>
<text x="418.60" y="353.2" font-size="3.3" fill="#1a1a1a" text-anchor="middle" font-weight="bold">21</text>
<text x="429.10" y="353.2" font-size="3.3" fill="#1a1a1a" text-anchor="middle" font-weight="bold">24</text>
<text x="439.70" y="353.2" font-size="3.3" fill="#1a1a1a" text-anchor="middle" font-weight="bold">25</text>
<text x="450.05" y="353.2" font-size="3.3" fill="#1a1a1a" text-anchor="middle" font-weight="bold">26</text>
<text x="460.80" y="353.2" font-size="3.3" fill="#1a1a1a" text-anchor="middle" font-weight="bold">30</text>
<text x="471.15" y="353.2" font-size="3.3" fill="#1a1a1a" text-anchor="middle" font-weight="bold">31</text>
<text x="481.95" y="353.2" font-size="3.3" fill="#1a1a1a" text-anchor="middle" font-weight="bold">32</text>
<text x="492.40" y="353.2" font-size="3.3" fill="#1a1a1a" text-anchor="middle" font-weight="bold">34</text>
<text x="510.0" y="353.2" font-size="3.1" fill="#333" text-anchor="middle" font-weight="bold" textLength="13.2" lengthAdjust="spacingAndGlyphs">Patient ID</text>
<text x="329.8" y="362.8" font-size="7.3" fill="#111" text-anchor="middle" textLength="25.4" lengthAdjust="spacingAndGlyphs" stroke="#111" stroke-width="0.1">CN/Mo7</text>
<text x="365.5" y="362.8" font-size="7.3" fill="#111" text-anchor="middle" textLength="26.1" lengthAdjust="spacingAndGlyphs" stroke="#111" stroke-width="0.1">CN/MDS</text>
<text x="443.0" y="362.8" font-size="7.3" fill="#111" text-anchor="middle" textLength="39.6" lengthAdjust="spacingAndGlyphs" stroke="#111" stroke-width="0.1">CN/leukemia</text>
<rect x="395.20" y="394.6" width="7.0" height="7.2" fill="#66eeb4" stroke="#999" stroke-width="0.5"/>
<text x="0" y="0" font-size="8.0" fill="#222" stroke="#222" stroke-width="0.05" textLength="15.2" lengthAdjust="spacingAndGlyphs" transform="translate(396.40,405.6) rotate(90)">2522</text>
<rect x="403.78" y="394.6" width="7.0" height="7.2" fill="#00501e" stroke="#999" stroke-width="0.5"/>
<text x="0" y="0" font-size="8.0" fill="#222" stroke="#222" stroke-width="0.05" textLength="15.2" lengthAdjust="spacingAndGlyphs" transform="translate(404.98,405.6) rotate(90)">2489</text>
<rect x="412.36" y="394.6" width="7.0" height="7.2" fill="#7a7aff" stroke="#999" stroke-width="0.5"/>
<text x="0" y="0" font-size="8.0" fill="#222" stroke="#222" stroke-width="0.05" textLength="15.2" lengthAdjust="spacingAndGlyphs" transform="translate(413.56,405.6) rotate(90)">2433</text>
<rect x="420.94" y="394.6" width="7.0" height="7.2" fill="#4412ee" stroke="#999" stroke-width="0.5"/>
<text x="0" y="0" font-size="8.0" fill="#222" stroke="#222" stroke-width="0.05" textLength="15.2" lengthAdjust="spacingAndGlyphs" transform="translate(422.14,405.6) rotate(90)">2429</text>
<rect x="429.52" y="394.6" width="7.0" height="7.2" fill="#5e0032" stroke="#999" stroke-width="0.5"/>
<text x="0" y="0" font-size="8.0" fill="#222" stroke="#222" stroke-width="0.05" textLength="15.2" lengthAdjust="spacingAndGlyphs" transform="translate(430.72,405.6) rotate(90)">2425</text>
<rect x="438.10" y="394.6" width="7.0" height="7.2" fill="#a3000f" stroke="#999" stroke-width="0.5"/>
<text x="0" y="0" font-size="8.0" fill="#222" stroke="#222" stroke-width="0.05" textLength="15.2" lengthAdjust="spacingAndGlyphs" transform="translate(439.30,405.6) rotate(90)">2414</text>
<rect x="446.68" y="394.6" width="7.0" height="7.2" fill="#cc0052" stroke="#999" stroke-width="0.5"/>
<text x="0" y="0" font-size="8.0" fill="#222" stroke="#222" stroke-width="0.05" textLength="15.2" lengthAdjust="spacingAndGlyphs" transform="translate(447.88,405.6) rotate(90)">2409</text>
<rect x="455.26" y="394.6" width="7.0" height="7.2" fill="#f0108a" stroke="#999" stroke-width="0.5"/>
<text x="0" y="0" font-size="8.0" fill="#222" stroke="#222" stroke-width="0.05" textLength="15.2" lengthAdjust="spacingAndGlyphs" transform="translate(456.46,405.6) rotate(90)">2396</text>
<rect x="463.84" y="394.6" width="7.0" height="7.2" fill="#ff4fdc" stroke="#999" stroke-width="0.5"/>
<text x="0" y="0" font-size="8.0" fill="#222" stroke="#222" stroke-width="0.05" textLength="15.2" lengthAdjust="spacingAndGlyphs" transform="translate(465.04,405.6) rotate(90)">2390</text>
<rect x="472.42" y="394.6" width="7.0" height="7.2" fill="#ff78b8" stroke="#999" stroke-width="0.5"/>
<text x="0" y="0" font-size="8.0" fill="#222" stroke="#222" stroke-width="0.05" textLength="15.2" lengthAdjust="spacingAndGlyphs" transform="translate(473.62,405.6) rotate(90)">2384</text>
<rect x="481.00" y="394.6" width="7.0" height="7.2" fill="#ffb2b0" stroke="#999" stroke-width="0.5"/>
<text x="0" y="0" font-size="8.0" fill="#222" stroke="#222" stroke-width="0.05" textLength="15.2" lengthAdjust="spacingAndGlyphs" transform="translate(482.20,405.6) rotate(90)">2369</text>
<rect x="489.58" y="394.6" width="7.0" height="7.2" fill="#fff0dc" stroke="#999" stroke-width="0.5"/>
<text x="0" y="0" font-size="8.0" fill="#222" stroke="#222" stroke-width="0.05" textLength="15.2" lengthAdjust="spacingAndGlyphs" transform="translate(490.78,405.6) rotate(90)">2357</text>
<rect x="498.16" y="394.6" width="7.0" height="7.2" fill="#cc9200" stroke="#999" stroke-width="0.5"/>
<text x="0" y="0" font-size="8.0" fill="#222" stroke="#222" stroke-width="0.05" textLength="15.2" lengthAdjust="spacingAndGlyphs" transform="translate(499.36,405.6) rotate(90)">2350</text>
<rect x="506.74" y="394.6" width="7.0" height="7.2" fill="#ffdc70" stroke="#999" stroke-width="0.5"/>
<text x="0" y="0" font-size="8.0" fill="#222" stroke="#222" stroke-width="0.05" textLength="15.2" lengthAdjust="spacingAndGlyphs" transform="translate(507.94,405.6) rotate(90)">2342</text>
<line x1="396.70" y1="424.00" x2="410.00" y2="424.00" stroke="#a8a8a8" stroke-width="1.3"/>
<line x1="414.00" y1="424.00" x2="427.00" y2="424.00" stroke="#a8a8a8" stroke-width="1.3"/>
<line x1="431.00" y1="424.00" x2="494.80" y2="424.00" stroke="#a8a8a8" stroke-width="1.3"/>
<line x1="498.20" y1="424.00" x2="513.00" y2="424.00" stroke="#a8a8a8" stroke-width="1.3"/>
<text x="405.10" y="437.0" font-size="7.8" fill="#111" text-anchor="middle" textLength="7.0" lengthAdjust="spacingAndGlyphs" stroke="#111" stroke-width="0.1">1Y</text>
<text x="421.15" y="437.0" font-size="7.8" fill="#111" text-anchor="middle" textLength="7.9" lengthAdjust="spacingAndGlyphs" stroke="#111" stroke-width="0.1">2Y</text>
<text x="462.75" y="437.0" font-size="7.8" fill="#111" text-anchor="middle" textLength="7.7" lengthAdjust="spacingAndGlyphs" stroke="#111" stroke-width="0.1">3Y</text>
<text x="506.85" y="437.0" font-size="7.8" fill="#111" text-anchor="middle" textLength="8.3" lengthAdjust="spacingAndGlyphs" stroke="#111" stroke-width="0.1">4Y</text>
</g>
</svg></body></html>
